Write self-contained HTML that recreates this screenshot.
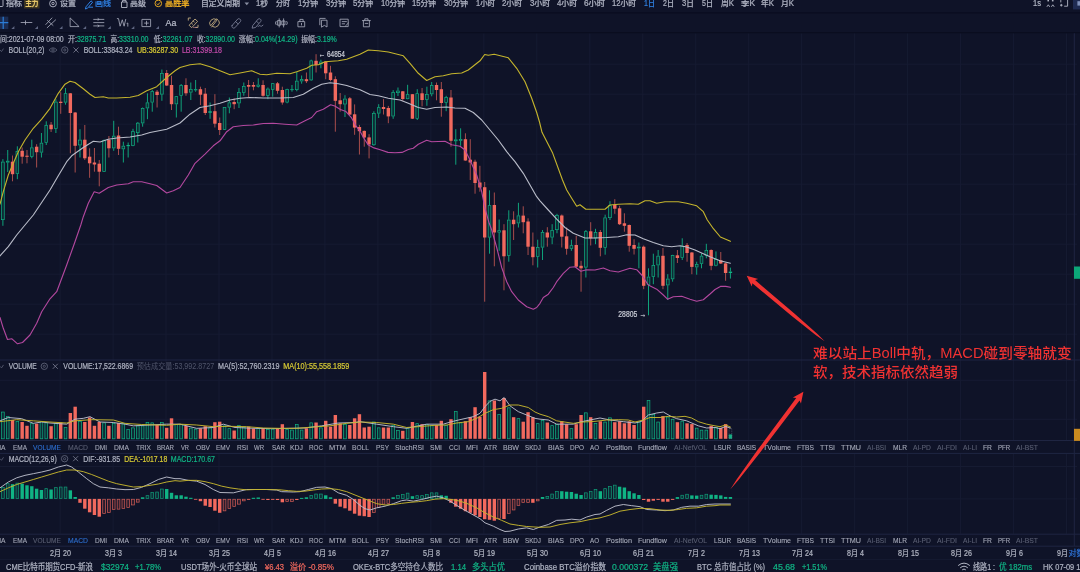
<!DOCTYPE html>
<html lang="zh-CN">
<head>
<meta charset="utf-8">
<title>BTC/USDT 日线 - BOLL / VOLUME / MACD</title>
<style>
html,body{margin:0;padding:0;background:#0f1328;}
body{width:1080px;height:572px;overflow:hidden;font-family:"Liberation Sans", "Noto Sans CJK SC", sans-serif;}
svg{display:block;font-family:"Liberation Sans", "Noto Sans CJK SC", sans-serif;}
text{white-space:pre;}
</style>
</head>
<body>
<svg width="1080" height="572" viewBox="0 0 1080 572">
<rect x="0" y="0" width="1080" height="572" fill="#0f1328" />
<line x1="60.1" y1="33.3" x2="60.1" y2="440" stroke="#161b32" stroke-width="1" />
<line x1="60.1" y1="453.8" x2="60.1" y2="533.8" stroke="#161b32" stroke-width="1" />
<line x1="113.07" y1="33.3" x2="113.07" y2="440" stroke="#161b32" stroke-width="1" />
<line x1="113.07" y1="453.8" x2="113.07" y2="533.8" stroke="#161b32" stroke-width="1" />
<line x1="166.04" y1="33.3" x2="166.04" y2="440" stroke="#161b32" stroke-width="1" />
<line x1="166.04" y1="453.8" x2="166.04" y2="533.8" stroke="#161b32" stroke-width="1" />
<line x1="219.01" y1="33.3" x2="219.01" y2="440" stroke="#161b32" stroke-width="1" />
<line x1="219.01" y1="453.8" x2="219.01" y2="533.8" stroke="#161b32" stroke-width="1" />
<line x1="271.98" y1="33.3" x2="271.98" y2="440" stroke="#161b32" stroke-width="1" />
<line x1="271.98" y1="453.8" x2="271.98" y2="533.8" stroke="#161b32" stroke-width="1" />
<line x1="324.95" y1="33.3" x2="324.95" y2="440" stroke="#161b32" stroke-width="1" />
<line x1="324.95" y1="453.8" x2="324.95" y2="533.8" stroke="#161b32" stroke-width="1" />
<line x1="377.92" y1="33.3" x2="377.92" y2="440" stroke="#161b32" stroke-width="1" />
<line x1="377.92" y1="453.8" x2="377.92" y2="533.8" stroke="#161b32" stroke-width="1" />
<line x1="430.89" y1="33.3" x2="430.89" y2="440" stroke="#161b32" stroke-width="1" />
<line x1="430.89" y1="453.8" x2="430.89" y2="533.8" stroke="#161b32" stroke-width="1" />
<line x1="483.86" y1="33.3" x2="483.86" y2="440" stroke="#161b32" stroke-width="1" />
<line x1="483.86" y1="453.8" x2="483.86" y2="533.8" stroke="#161b32" stroke-width="1" />
<line x1="536.83" y1="33.3" x2="536.83" y2="440" stroke="#161b32" stroke-width="1" />
<line x1="536.83" y1="453.8" x2="536.83" y2="533.8" stroke="#161b32" stroke-width="1" />
<line x1="589.8" y1="33.3" x2="589.8" y2="440" stroke="#161b32" stroke-width="1" />
<line x1="589.8" y1="453.8" x2="589.8" y2="533.8" stroke="#161b32" stroke-width="1" />
<line x1="642.77" y1="33.3" x2="642.77" y2="440" stroke="#161b32" stroke-width="1" />
<line x1="642.77" y1="453.8" x2="642.77" y2="533.8" stroke="#161b32" stroke-width="1" />
<line x1="695.74" y1="33.3" x2="695.74" y2="440" stroke="#161b32" stroke-width="1" />
<line x1="695.74" y1="453.8" x2="695.74" y2="533.8" stroke="#161b32" stroke-width="1" />
<line x1="748.71" y1="33.3" x2="748.71" y2="440" stroke="#161b32" stroke-width="1" />
<line x1="748.71" y1="453.8" x2="748.71" y2="533.8" stroke="#161b32" stroke-width="1" />
<line x1="801.68" y1="33.3" x2="801.68" y2="440" stroke="#161b32" stroke-width="1" />
<line x1="801.68" y1="453.8" x2="801.68" y2="533.8" stroke="#161b32" stroke-width="1" />
<line x1="854.65" y1="33.3" x2="854.65" y2="440" stroke="#161b32" stroke-width="1" />
<line x1="854.65" y1="453.8" x2="854.65" y2="533.8" stroke="#161b32" stroke-width="1" />
<line x1="907.62" y1="33.3" x2="907.62" y2="440" stroke="#161b32" stroke-width="1" />
<line x1="907.62" y1="453.8" x2="907.62" y2="533.8" stroke="#161b32" stroke-width="1" />
<line x1="960.59" y1="33.3" x2="960.59" y2="440" stroke="#161b32" stroke-width="1" />
<line x1="960.59" y1="453.8" x2="960.59" y2="533.8" stroke="#161b32" stroke-width="1" />
<line x1="1013.56" y1="33.3" x2="1013.56" y2="440" stroke="#161b32" stroke-width="1" />
<line x1="1013.56" y1="453.8" x2="1013.56" y2="533.8" stroke="#161b32" stroke-width="1" />
<line x1="1066.53" y1="33.3" x2="1066.53" y2="440" stroke="#161b32" stroke-width="1" />
<line x1="1066.53" y1="453.8" x2="1066.53" y2="533.8" stroke="#161b32" stroke-width="1" />
<line x1="0" y1="64.2" x2="1077" y2="64.2" stroke="#161b32" stroke-width="1" />
<line x1="0" y1="94.2" x2="1077" y2="94.2" stroke="#161b32" stroke-width="1" />
<line x1="0" y1="124.2" x2="1077" y2="124.2" stroke="#161b32" stroke-width="1" />
<line x1="0" y1="154.2" x2="1077" y2="154.2" stroke="#161b32" stroke-width="1" />
<line x1="0" y1="184.2" x2="1077" y2="184.2" stroke="#161b32" stroke-width="1" />
<line x1="0" y1="214.2" x2="1077" y2="214.2" stroke="#161b32" stroke-width="1" />
<line x1="0" y1="244.2" x2="1077" y2="244.2" stroke="#161b32" stroke-width="1" />
<line x1="0" y1="274.2" x2="1077" y2="274.2" stroke="#161b32" stroke-width="1" />
<line x1="0" y1="304.2" x2="1077" y2="304.2" stroke="#161b32" stroke-width="1" />
<line x1="0" y1="334.2" x2="1077" y2="334.2" stroke="#161b32" stroke-width="1" />
<line x1="0" y1="380.3" x2="1077" y2="380.3" stroke="#161b32" stroke-width="1" />
<line x1="0" y1="419.3" x2="1077" y2="419.3" stroke="#161b32" stroke-width="1" />
<line x1="0" y1="466.5" x2="1077" y2="466.5" stroke="#161b32" stroke-width="1" />
<line x1="0" y1="498.9" x2="1077" y2="498.9" stroke="#161b32" stroke-width="1" />
<line x1="0" y1="12.9" x2="1080" y2="12.9" stroke="#0a0d1f" stroke-width="1.4" />
<line x1="0" y1="32.6" x2="1080" y2="32.6" stroke="#0a0d1f" stroke-width="1.4" />
<line x1="0" y1="360" x2="1080" y2="360" stroke="#1f2542" stroke-width="1" />
<line x1="0" y1="440.5" x2="1080" y2="440.5" stroke="#1f2542" stroke-width="1" />
<line x1="0" y1="453.4" x2="1080" y2="453.4" stroke="#1f2542" stroke-width="1" />
<line x1="0" y1="534.2" x2="1080" y2="534.2" stroke="#1f2542" stroke-width="1" />
<line x1="0" y1="546.2" x2="1080" y2="546.2" stroke="#1f2542" stroke-width="1" />
<line x1="0" y1="559.5" x2="1080" y2="559.5" stroke="#141930" stroke-width="1" />
<line x1="1074.3" y1="33.3" x2="1074.3" y2="546.2" stroke="#1f2542" stroke-width="1" />
<g id="candles">
<line x1="2.9" y1="159.2" x2="2.9" y2="161.7" stroke="#10b384" stroke-width="0.9" />
<line x1="2.9" y1="220" x2="2.9" y2="225.8" stroke="#10b384" stroke-width="0.9" />
<rect x="1.55" y="162.05" width="2.7" height="57.6" fill="#0e2b35" stroke="#10b384" stroke-width="0.7" />
<line x1="7.72" y1="150" x2="7.72" y2="160.8" stroke="#10b384" stroke-width="0.9" />
<line x1="7.72" y1="162.5" x2="7.72" y2="172" stroke="#10b384" stroke-width="0.9" />
<rect x="6.37" y="161.15" width="2.7" height="1" fill="#0e2b35" stroke="#10b384" stroke-width="0.7" />
<line x1="12.54" y1="155.5" x2="12.54" y2="181.3" stroke="#f2695e" stroke-width="0.9" opacity="0.75"/>
<rect x="10.84" y="161.7" width="3.4" height="12.5" fill="#f2695e" />
<line x1="17.35" y1="146.3" x2="17.35" y2="151.2" stroke="#10b384" stroke-width="0.9" />
<line x1="17.35" y1="173.7" x2="17.35" y2="179.2" stroke="#10b384" stroke-width="0.9" />
<rect x="16" y="151.55" width="2.7" height="21.8" fill="#0e2b35" stroke="#10b384" stroke-width="0.7" />
<line x1="22.17" y1="147.5" x2="22.17" y2="163.7" stroke="#f2695e" stroke-width="0.9" opacity="0.75"/>
<rect x="20.47" y="150.8" width="3.4" height="5.9" fill="#f2695e" />
<line x1="26.99" y1="150" x2="26.99" y2="163.3" stroke="#f2695e" stroke-width="0.9" opacity="0.75"/>
<rect x="25.29" y="155.7" width="3.4" height="1.1" fill="#f2695e" />
<line x1="31.81" y1="139.7" x2="31.81" y2="147.5" stroke="#10b384" stroke-width="0.9" />
<line x1="31.81" y1="156.7" x2="31.81" y2="158.3" stroke="#10b384" stroke-width="0.9" />
<rect x="30.46" y="147.85" width="2.7" height="8.5" fill="#0e2b35" stroke="#10b384" stroke-width="0.7" />
<line x1="36.63" y1="144.2" x2="36.63" y2="167.5" stroke="#f2695e" stroke-width="0.9" opacity="0.75"/>
<rect x="34.93" y="146.7" width="3.4" height="5.5" fill="#f2695e" />
<line x1="41.44" y1="133" x2="41.44" y2="142.8" stroke="#10b384" stroke-width="0.9" />
<line x1="41.44" y1="152.5" x2="41.44" y2="157.5" stroke="#10b384" stroke-width="0.9" />
<rect x="40.09" y="143.15" width="2.7" height="9" fill="#0e2b35" stroke="#10b384" stroke-width="0.7" />
<line x1="46.26" y1="121.3" x2="46.26" y2="125" stroke="#10b384" stroke-width="0.9" />
<line x1="46.26" y1="142.8" x2="46.26" y2="145" stroke="#10b384" stroke-width="0.9" />
<rect x="44.91" y="125.35" width="2.7" height="17.1" fill="#0e2b35" stroke="#10b384" stroke-width="0.7" />
<line x1="51.08" y1="122" x2="51.08" y2="132" stroke="#f2695e" stroke-width="0.9" opacity="0.75"/>
<rect x="49.38" y="124.7" width="3.4" height="4.5" fill="#f2695e" />
<line x1="55.9" y1="99.2" x2="55.9" y2="101.7" stroke="#10b384" stroke-width="0.9" />
<line x1="55.9" y1="128.8" x2="55.9" y2="133" stroke="#10b384" stroke-width="0.9" />
<rect x="54.55" y="102.05" width="2.7" height="26.4" fill="#0e2b35" stroke="#10b384" stroke-width="0.7" />
<line x1="60.72" y1="92.2" x2="60.72" y2="113.8" stroke="#f2695e" stroke-width="0.9" opacity="0.75"/>
<rect x="59.02" y="101.7" width="3.4" height="1.3" fill="#f2695e" />
<line x1="65.53" y1="88" x2="65.53" y2="93.3" stroke="#10b384" stroke-width="0.9" />
<line x1="65.53" y1="102.5" x2="65.53" y2="104.7" stroke="#10b384" stroke-width="0.9" />
<rect x="64.18" y="93.65" width="2.7" height="8.5" fill="#0e2b35" stroke="#10b384" stroke-width="0.7" />
<line x1="70.35" y1="93" x2="70.35" y2="153.3" stroke="#f2695e" stroke-width="0.9" opacity="0.75"/>
<rect x="68.65" y="93.3" width="3.4" height="19.7" fill="#f2695e" />
<line x1="75.17" y1="112" x2="75.17" y2="172.5" stroke="#f2695e" stroke-width="0.9" opacity="0.75"/>
<rect x="73.47" y="112.5" width="3.4" height="33.3" fill="#f2695e" />
<line x1="79.99" y1="129.2" x2="79.99" y2="139.7" stroke="#10b384" stroke-width="0.9" />
<line x1="79.99" y1="145.3" x2="79.99" y2="157.5" stroke="#10b384" stroke-width="0.9" />
<rect x="78.64" y="140.05" width="2.7" height="4.9" fill="#0e2b35" stroke="#10b384" stroke-width="0.7" />
<line x1="84.81" y1="125" x2="84.81" y2="160" stroke="#f2695e" stroke-width="0.9" opacity="0.75"/>
<rect x="83.11" y="139.7" width="3.4" height="18.6" fill="#f2695e" />
<line x1="89.62" y1="148.3" x2="89.62" y2="177.8" stroke="#f2695e" stroke-width="0.9" opacity="0.75"/>
<rect x="87.92" y="156.7" width="3.4" height="6.6" fill="#f2695e" />
<line x1="94.44" y1="148" x2="94.44" y2="171.7" stroke="#f2695e" stroke-width="0.9" opacity="0.75"/>
<rect x="92.74" y="162.5" width="3.4" height="2" fill="#f2695e" />
<line x1="99.26" y1="160" x2="99.26" y2="186.3" stroke="#f2695e" stroke-width="0.9" opacity="0.75"/>
<rect x="97.56" y="163.7" width="3.4" height="8" fill="#f2695e" />
<line x1="104.08" y1="139.5" x2="104.08" y2="140" stroke="#10b384" stroke-width="0.9" />
<line x1="104.08" y1="171.7" x2="104.08" y2="172" stroke="#10b384" stroke-width="0.9" />
<rect x="102.73" y="140.35" width="2.7" height="31" fill="#0e2b35" stroke="#10b384" stroke-width="0.7" />
<line x1="108.9" y1="136" x2="108.9" y2="157.5" stroke="#f2695e" stroke-width="0.9" opacity="0.75"/>
<rect x="107.2" y="140" width="3.4" height="8.3" fill="#f2695e" />
<line x1="113.71" y1="120.8" x2="113.71" y2="135.8" stroke="#10b384" stroke-width="0.9" />
<line x1="113.71" y1="148.3" x2="113.71" y2="150.8" stroke="#10b384" stroke-width="0.9" />
<rect x="112.36" y="136.15" width="2.7" height="11.8" fill="#0e2b35" stroke="#10b384" stroke-width="0.7" />
<line x1="118.53" y1="126.7" x2="118.53" y2="155" stroke="#f2695e" stroke-width="0.9" opacity="0.75"/>
<rect x="116.83" y="135.5" width="3.4" height="13.3" fill="#f2695e" />
<line x1="123.35" y1="141.7" x2="123.35" y2="145.8" stroke="#10b384" stroke-width="0.9" />
<line x1="123.35" y1="149.2" x2="123.35" y2="162.5" stroke="#10b384" stroke-width="0.9" />
<rect x="122" y="146.15" width="2.7" height="2.7" fill="#0e2b35" stroke="#10b384" stroke-width="0.7" />
<line x1="128.17" y1="142.5" x2="128.17" y2="145" stroke="#10b384" stroke-width="0.9" />
<line x1="128.17" y1="146.2" x2="128.17" y2="157.5" stroke="#10b384" stroke-width="0.9" />
<rect x="126.47" y="145" width="3.4" height="1.2" fill="#10b384" />
<line x1="132.99" y1="128.8" x2="132.99" y2="131.3" stroke="#10b384" stroke-width="0.9" />
<line x1="132.99" y1="145.8" x2="132.99" y2="146.2" stroke="#10b384" stroke-width="0.9" />
<rect x="131.64" y="131.65" width="2.7" height="13.8" fill="#0e2b35" stroke="#10b384" stroke-width="0.7" />
<line x1="137.8" y1="122" x2="137.8" y2="122.8" stroke="#10b384" stroke-width="0.9" />
<line x1="137.8" y1="133" x2="137.8" y2="142.5" stroke="#10b384" stroke-width="0.9" />
<rect x="136.45" y="123.15" width="2.7" height="9.5" fill="#0e2b35" stroke="#10b384" stroke-width="0.7" />
<line x1="142.62" y1="107.5" x2="142.62" y2="108" stroke="#10b384" stroke-width="0.9" />
<line x1="142.62" y1="123.3" x2="142.62" y2="126.7" stroke="#10b384" stroke-width="0.9" />
<rect x="141.27" y="108.35" width="2.7" height="14.6" fill="#0e2b35" stroke="#10b384" stroke-width="0.7" />
<line x1="147.44" y1="93.3" x2="147.44" y2="102.5" stroke="#10b384" stroke-width="0.9" />
<line x1="147.44" y1="108.3" x2="147.44" y2="119.2" stroke="#10b384" stroke-width="0.9" />
<rect x="146.09" y="102.85" width="2.7" height="5.1" fill="#0e2b35" stroke="#10b384" stroke-width="0.7" />
<line x1="152.26" y1="89.7" x2="152.26" y2="91.2" stroke="#10b384" stroke-width="0.9" />
<line x1="152.26" y1="102.5" x2="152.26" y2="111.7" stroke="#10b384" stroke-width="0.9" />
<rect x="150.91" y="91.55" width="2.7" height="10.6" fill="#0e2b35" stroke="#10b384" stroke-width="0.7" />
<line x1="157.08" y1="90" x2="157.08" y2="107.5" stroke="#f2695e" stroke-width="0.9" opacity="0.75"/>
<rect x="155.38" y="91.7" width="3.4" height="3.3" fill="#f2695e" />
<line x1="161.89" y1="69.5" x2="161.89" y2="73" stroke="#10b384" stroke-width="0.9" />
<line x1="161.89" y1="94.5" x2="161.89" y2="100.8" stroke="#10b384" stroke-width="0.9" />
<rect x="160.54" y="73.35" width="2.7" height="20.8" fill="#0e2b35" stroke="#10b384" stroke-width="0.7" />
<line x1="166.71" y1="70" x2="166.71" y2="86" stroke="#f2695e" stroke-width="0.9" opacity="0.75"/>
<rect x="165.01" y="73" width="3.4" height="12.5" fill="#f2695e" />
<line x1="171.53" y1="75.8" x2="171.53" y2="110" stroke="#f2695e" stroke-width="0.9" opacity="0.75"/>
<rect x="169.83" y="85" width="3.4" height="19.2" fill="#f2695e" />
<line x1="176.35" y1="96" x2="176.35" y2="96.3" stroke="#10b384" stroke-width="0.9" />
<line x1="176.35" y1="104.2" x2="176.35" y2="117.5" stroke="#10b384" stroke-width="0.9" />
<rect x="175" y="96.65" width="2.7" height="7.2" fill="#0e2b35" stroke="#10b384" stroke-width="0.7" />
<line x1="181.17" y1="84" x2="181.17" y2="85" stroke="#10b384" stroke-width="0.9" />
<line x1="181.17" y1="95.8" x2="181.17" y2="111.7" stroke="#10b384" stroke-width="0.9" />
<rect x="179.82" y="85.35" width="2.7" height="10.1" fill="#0e2b35" stroke="#10b384" stroke-width="0.7" />
<line x1="185.98" y1="78.3" x2="185.98" y2="95.8" stroke="#f2695e" stroke-width="0.9" opacity="0.75"/>
<rect x="184.28" y="85" width="3.4" height="8.3" fill="#f2695e" />
<line x1="190.8" y1="82.5" x2="190.8" y2="89.2" stroke="#10b384" stroke-width="0.9" />
<line x1="190.8" y1="92.5" x2="190.8" y2="100" stroke="#10b384" stroke-width="0.9" />
<rect x="189.45" y="89.55" width="2.7" height="2.6" fill="#0e2b35" stroke="#10b384" stroke-width="0.7" />
<line x1="195.62" y1="80" x2="195.62" y2="89.2" stroke="#10b384" stroke-width="0.9" />
<line x1="195.62" y1="90.3" x2="195.62" y2="91.7" stroke="#10b384" stroke-width="0.9" />
<rect x="193.92" y="89.2" width="3.4" height="1.1" fill="#10b384" />
<line x1="200.44" y1="86.7" x2="200.44" y2="105" stroke="#f2695e" stroke-width="0.9" opacity="0.75"/>
<rect x="198.74" y="89.2" width="3.4" height="5.5" fill="#f2695e" />
<line x1="205.26" y1="88" x2="205.26" y2="115" stroke="#f2695e" stroke-width="0.9" opacity="0.75"/>
<rect x="203.56" y="93.7" width="3.4" height="19.3" fill="#f2695e" />
<line x1="210.07" y1="102.5" x2="210.07" y2="111.2" stroke="#10b384" stroke-width="0.9" />
<line x1="210.07" y1="112.8" x2="210.07" y2="118.8" stroke="#10b384" stroke-width="0.9" />
<rect x="208.37" y="111.2" width="3.4" height="1.6" fill="#10b384" />
<line x1="214.89" y1="94.2" x2="214.89" y2="127.5" stroke="#f2695e" stroke-width="0.9" opacity="0.75"/>
<rect x="213.19" y="111.2" width="3.4" height="12.5" fill="#f2695e" />
<line x1="219.71" y1="117.5" x2="219.71" y2="135" stroke="#f2695e" stroke-width="0.9" opacity="0.75"/>
<rect x="218.01" y="123" width="3.4" height="7" fill="#f2695e" />
<line x1="224.53" y1="107" x2="224.53" y2="107.2" stroke="#10b384" stroke-width="0.9" />
<line x1="224.53" y1="129.7" x2="224.53" y2="130" stroke="#10b384" stroke-width="0.9" />
<rect x="223.18" y="107.55" width="2.7" height="21.8" fill="#0e2b35" stroke="#10b384" stroke-width="0.7" />
<line x1="229.35" y1="97.5" x2="229.35" y2="102.5" stroke="#10b384" stroke-width="0.9" />
<line x1="229.35" y1="107.5" x2="229.35" y2="113.3" stroke="#10b384" stroke-width="0.9" />
<rect x="228" y="102.85" width="2.7" height="4.3" fill="#0e2b35" stroke="#10b384" stroke-width="0.7" />
<line x1="234.16" y1="98.3" x2="234.16" y2="109.2" stroke="#f2695e" stroke-width="0.9" opacity="0.75"/>
<rect x="232.46" y="102" width="3.4" height="2.2" fill="#f2695e" />
<line x1="238.98" y1="88" x2="238.98" y2="92.2" stroke="#10b384" stroke-width="0.9" />
<line x1="238.98" y1="103.3" x2="238.98" y2="108" stroke="#10b384" stroke-width="0.9" />
<rect x="237.63" y="92.55" width="2.7" height="10.4" fill="#0e2b35" stroke="#10b384" stroke-width="0.7" />
<line x1="243.8" y1="82.5" x2="243.8" y2="86.2" stroke="#10b384" stroke-width="0.9" />
<line x1="243.8" y1="92.8" x2="243.8" y2="95.8" stroke="#10b384" stroke-width="0.9" />
<rect x="242.45" y="86.55" width="2.7" height="5.9" fill="#0e2b35" stroke="#10b384" stroke-width="0.7" />
<line x1="248.62" y1="80" x2="248.62" y2="97" stroke="#f2695e" stroke-width="0.9" opacity="0.75"/>
<rect x="246.92" y="85" width="3.4" height="1.7" fill="#f2695e" />
<line x1="253.44" y1="82" x2="253.44" y2="90.3" stroke="#f2695e" stroke-width="0.9" opacity="0.75"/>
<rect x="251.74" y="85" width="3.4" height="1.7" fill="#f2695e" />
<line x1="258.25" y1="78.3" x2="258.25" y2="84.7" stroke="#10b384" stroke-width="0.9" />
<line x1="258.25" y1="86.7" x2="258.25" y2="87.5" stroke="#10b384" stroke-width="0.9" />
<rect x="256.9" y="85.05" width="2.7" height="1.3" fill="#0e2b35" stroke="#10b384" stroke-width="0.7" />
<line x1="263.07" y1="80.3" x2="263.07" y2="96.7" stroke="#f2695e" stroke-width="0.9" opacity="0.75"/>
<rect x="261.37" y="85" width="3.4" height="10.8" fill="#f2695e" />
<line x1="267.89" y1="87.5" x2="267.89" y2="88.7" stroke="#10b384" stroke-width="0.9" />
<line x1="267.89" y1="95.8" x2="267.89" y2="99.2" stroke="#10b384" stroke-width="0.9" />
<rect x="266.54" y="89.05" width="2.7" height="6.4" fill="#0e2b35" stroke="#10b384" stroke-width="0.7" />
<line x1="272.71" y1="83" x2="272.71" y2="83.3" stroke="#10b384" stroke-width="0.9" />
<line x1="272.71" y1="89.7" x2="272.71" y2="96.7" stroke="#10b384" stroke-width="0.9" />
<rect x="271.36" y="83.65" width="2.7" height="5.7" fill="#0e2b35" stroke="#10b384" stroke-width="0.7" />
<line x1="277.53" y1="82" x2="277.53" y2="93.7" stroke="#f2695e" stroke-width="0.9" opacity="0.75"/>
<rect x="275.83" y="83.3" width="3.4" height="7.5" fill="#f2695e" />
<line x1="282.34" y1="86.7" x2="282.34" y2="104.7" stroke="#f2695e" stroke-width="0.9" opacity="0.75"/>
<rect x="280.64" y="90" width="3.4" height="12.5" fill="#f2695e" />
<line x1="287.16" y1="88.7" x2="287.16" y2="89.2" stroke="#10b384" stroke-width="0.9" />
<line x1="287.16" y1="102.5" x2="287.16" y2="103.3" stroke="#10b384" stroke-width="0.9" />
<rect x="285.81" y="89.55" width="2.7" height="12.6" fill="#0e2b35" stroke="#10b384" stroke-width="0.7" />
<line x1="291.98" y1="85" x2="291.98" y2="89.2" stroke="#10b384" stroke-width="0.9" />
<line x1="291.98" y1="90" x2="291.98" y2="91.7" stroke="#10b384" stroke-width="0.9" />
<rect x="290.28" y="89.2" width="3.4" height="0.9" fill="#10b384" />
<line x1="296.8" y1="71.7" x2="296.8" y2="80.8" stroke="#10b384" stroke-width="0.9" />
<line x1="296.8" y1="90" x2="296.8" y2="91.3" stroke="#10b384" stroke-width="0.9" />
<rect x="295.45" y="81.15" width="2.7" height="8.5" fill="#0e2b35" stroke="#10b384" stroke-width="0.7" />
<line x1="301.62" y1="75.5" x2="301.62" y2="79.2" stroke="#10b384" stroke-width="0.9" />
<line x1="301.62" y1="81.3" x2="301.62" y2="83.7" stroke="#10b384" stroke-width="0.9" />
<rect x="300.27" y="79.55" width="2.7" height="1.4" fill="#0e2b35" stroke="#10b384" stroke-width="0.7" />
<line x1="306.43" y1="72.5" x2="306.43" y2="83" stroke="#f2695e" stroke-width="0.9" opacity="0.75"/>
<rect x="304.73" y="79.2" width="3.4" height="2" fill="#f2695e" />
<line x1="311.25" y1="59.7" x2="311.25" y2="60.5" stroke="#10b384" stroke-width="0.9" />
<line x1="311.25" y1="80.3" x2="311.25" y2="80.8" stroke="#10b384" stroke-width="0.9" />
<rect x="309.9" y="60.85" width="2.7" height="19.1" fill="#0e2b35" stroke="#10b384" stroke-width="0.7" />
<line x1="316.07" y1="54.2" x2="316.07" y2="72.5" stroke="#f2695e" stroke-width="0.9" opacity="0.75"/>
<rect x="314.37" y="60.8" width="3.4" height="4.2" fill="#f2695e" />
<line x1="320.89" y1="59.7" x2="320.89" y2="61.7" stroke="#10b384" stroke-width="0.9" />
<line x1="320.89" y1="64.2" x2="320.89" y2="68.3" stroke="#10b384" stroke-width="0.9" />
<rect x="319.54" y="62.05" width="2.7" height="1.8" fill="#0e2b35" stroke="#10b384" stroke-width="0.7" />
<line x1="325.71" y1="61.2" x2="325.71" y2="79.2" stroke="#f2695e" stroke-width="0.9" opacity="0.75"/>
<rect x="324.01" y="61.7" width="3.4" height="11.6" fill="#f2695e" />
<line x1="330.52" y1="65.8" x2="330.52" y2="81.3" stroke="#f2695e" stroke-width="0.9" opacity="0.75"/>
<rect x="328.82" y="72.5" width="3.4" height="7.5" fill="#f2695e" />
<line x1="335.34" y1="76.3" x2="335.34" y2="131.7" stroke="#f2695e" stroke-width="0.9" opacity="0.75"/>
<rect x="333.64" y="79.2" width="3.4" height="21.6" fill="#f2695e" />
<line x1="340.16" y1="93" x2="340.16" y2="111.7" stroke="#f2695e" stroke-width="0.9" opacity="0.75"/>
<rect x="338.46" y="100.3" width="3.4" height="3.9" fill="#f2695e" />
<line x1="344.98" y1="95.2" x2="344.98" y2="98.7" stroke="#10b384" stroke-width="0.9" />
<line x1="344.98" y1="104.4" x2="344.98" y2="117" stroke="#10b384" stroke-width="0.9" />
<rect x="343.63" y="99.05" width="2.7" height="5" fill="#0e2b35" stroke="#10b384" stroke-width="0.7" />
<line x1="349.8" y1="97" x2="349.8" y2="115" stroke="#f2695e" stroke-width="0.9" opacity="0.75"/>
<rect x="348.1" y="98.3" width="3.4" height="16.3" fill="#f2695e" />
<line x1="354.61" y1="104.4" x2="354.61" y2="134.8" stroke="#f2695e" stroke-width="0.9" opacity="0.75"/>
<rect x="352.91" y="114.3" width="3.4" height="13.3" fill="#f2695e" />
<line x1="359.43" y1="124.9" x2="359.43" y2="154.5" stroke="#f2695e" stroke-width="0.9" opacity="0.75"/>
<rect x="357.73" y="127" width="3.4" height="4.2" fill="#f2695e" />
<line x1="364.25" y1="130.5" x2="364.25" y2="146.7" stroke="#f2695e" stroke-width="0.9" opacity="0.75"/>
<rect x="362.55" y="130.9" width="3.4" height="6.6" fill="#f2695e" />
<line x1="369.07" y1="134.2" x2="369.07" y2="158.4" stroke="#f2695e" stroke-width="0.9" opacity="0.75"/>
<rect x="367.37" y="137.4" width="3.4" height="7.1" fill="#f2695e" />
<line x1="373.89" y1="111.3" x2="373.89" y2="113" stroke="#10b384" stroke-width="0.9" />
<line x1="373.89" y1="145.1" x2="373.89" y2="145.8" stroke="#10b384" stroke-width="0.9" />
<rect x="372.54" y="113.35" width="2.7" height="31.4" fill="#0e2b35" stroke="#10b384" stroke-width="0.7" />
<line x1="378.7" y1="104.2" x2="378.7" y2="107.3" stroke="#10b384" stroke-width="0.9" />
<line x1="378.7" y1="113.5" x2="378.7" y2="118" stroke="#10b384" stroke-width="0.9" />
<rect x="377.35" y="107.65" width="2.7" height="5.5" fill="#0e2b35" stroke="#10b384" stroke-width="0.7" />
<line x1="383.52" y1="99.1" x2="383.52" y2="114.5" stroke="#f2695e" stroke-width="0.9" opacity="0.75"/>
<rect x="381.82" y="107" width="3.4" height="2" fill="#f2695e" />
<line x1="388.34" y1="105.9" x2="388.34" y2="123.2" stroke="#f2695e" stroke-width="0.9" opacity="0.75"/>
<rect x="386.64" y="108" width="3.4" height="8.4" fill="#f2695e" />
<line x1="393.16" y1="90.1" x2="393.16" y2="92.1" stroke="#10b384" stroke-width="0.9" />
<line x1="393.16" y1="116.4" x2="393.16" y2="118.8" stroke="#10b384" stroke-width="0.9" />
<rect x="391.81" y="92.45" width="2.7" height="23.6" fill="#0e2b35" stroke="#10b384" stroke-width="0.7" />
<line x1="397.98" y1="87.5" x2="397.98" y2="90.7" stroke="#10b384" stroke-width="0.9" />
<line x1="397.98" y1="93" x2="397.98" y2="96" stroke="#10b384" stroke-width="0.9" />
<rect x="396.63" y="91.05" width="2.7" height="1.6" fill="#0e2b35" stroke="#10b384" stroke-width="0.7" />
<line x1="402.79" y1="91" x2="402.79" y2="100.8" stroke="#f2695e" stroke-width="0.9" opacity="0.75"/>
<rect x="401.09" y="91.3" width="3.4" height="7.7" fill="#f2695e" />
<line x1="407.61" y1="84.8" x2="407.61" y2="94.3" stroke="#10b384" stroke-width="0.9" />
<line x1="407.61" y1="99.1" x2="407.61" y2="99.3" stroke="#10b384" stroke-width="0.9" />
<rect x="406.26" y="94.65" width="2.7" height="4.1" fill="#0e2b35" stroke="#10b384" stroke-width="0.7" />
<line x1="412.43" y1="94" x2="412.43" y2="119" stroke="#f2695e" stroke-width="0.9" opacity="0.75"/>
<rect x="410.73" y="94.2" width="3.4" height="24.5" fill="#f2695e" />
<line x1="417.25" y1="89.2" x2="417.25" y2="93.3" stroke="#10b384" stroke-width="0.9" />
<line x1="417.25" y1="118.8" x2="417.25" y2="120" stroke="#10b384" stroke-width="0.9" />
<rect x="415.9" y="93.65" width="2.7" height="24.8" fill="#0e2b35" stroke="#10b384" stroke-width="0.7" />
<line x1="422.07" y1="88" x2="422.07" y2="106.3" stroke="#f2695e" stroke-width="0.9" opacity="0.75"/>
<rect x="420.37" y="93.3" width="3.4" height="6.7" fill="#f2695e" />
<line x1="426.88" y1="86.7" x2="426.88" y2="94.2" stroke="#10b384" stroke-width="0.9" />
<line x1="426.88" y1="99.7" x2="426.88" y2="105.8" stroke="#10b384" stroke-width="0.9" />
<rect x="425.53" y="94.55" width="2.7" height="4.8" fill="#0e2b35" stroke="#10b384" stroke-width="0.7" />
<line x1="431.7" y1="82" x2="431.7" y2="85" stroke="#10b384" stroke-width="0.9" />
<line x1="431.7" y1="94.2" x2="431.7" y2="96.3" stroke="#10b384" stroke-width="0.9" />
<rect x="430.35" y="85.35" width="2.7" height="8.5" fill="#0e2b35" stroke="#10b384" stroke-width="0.7" />
<line x1="436.52" y1="82.5" x2="436.52" y2="100.3" stroke="#f2695e" stroke-width="0.9" opacity="0.75"/>
<rect x="434.82" y="85" width="3.4" height="5" fill="#f2695e" />
<line x1="441.34" y1="82" x2="441.34" y2="116.7" stroke="#f2695e" stroke-width="0.9" opacity="0.75"/>
<rect x="439.64" y="89.2" width="3.4" height="13.8" fill="#f2695e" />
<line x1="446.16" y1="95.8" x2="446.16" y2="97" stroke="#10b384" stroke-width="0.9" />
<line x1="446.16" y1="102.8" x2="446.16" y2="111.2" stroke="#10b384" stroke-width="0.9" />
<rect x="444.81" y="97.35" width="2.7" height="5.1" fill="#0e2b35" stroke="#10b384" stroke-width="0.7" />
<line x1="450.97" y1="90" x2="450.97" y2="146.7" stroke="#f2695e" stroke-width="0.9" opacity="0.75"/>
<rect x="449.27" y="97.5" width="3.4" height="43.3" fill="#f2695e" />
<line x1="455.79" y1="129.2" x2="455.79" y2="139.5" stroke="#10b384" stroke-width="0.9" />
<line x1="455.79" y1="141.2" x2="455.79" y2="164.7" stroke="#10b384" stroke-width="0.9" />
<rect x="454.44" y="139.85" width="2.7" height="1" fill="#0e2b35" stroke="#10b384" stroke-width="0.7" />
<line x1="460.61" y1="128.3" x2="460.61" y2="139.2" stroke="#10b384" stroke-width="0.9" />
<line x1="460.61" y1="140.8" x2="460.61" y2="145.8" stroke="#10b384" stroke-width="0.9" />
<rect x="459.26" y="139.55" width="2.7" height="0.9" fill="#0e2b35" stroke="#10b384" stroke-width="0.7" />
<line x1="465.43" y1="133.3" x2="465.43" y2="160.8" stroke="#f2695e" stroke-width="0.9" opacity="0.75"/>
<rect x="463.73" y="139.2" width="3.4" height="21.3" fill="#f2695e" />
<line x1="470.25" y1="139.2" x2="470.25" y2="180" stroke="#f2695e" stroke-width="0.9" opacity="0.75"/>
<rect x="468.55" y="159.7" width="3.4" height="2.8" fill="#f2695e" />
<line x1="475.06" y1="159.7" x2="475.06" y2="193.7" stroke="#f2695e" stroke-width="0.9" opacity="0.75"/>
<rect x="473.36" y="161.7" width="3.4" height="21.3" fill="#f2695e" />
<line x1="479.88" y1="165.8" x2="479.88" y2="191.7" stroke="#f2695e" stroke-width="0.9" opacity="0.75"/>
<rect x="478.18" y="182.5" width="3.4" height="5" fill="#f2695e" />
<line x1="484.7" y1="182" x2="484.7" y2="301.7" stroke="#f2695e" stroke-width="0.9" opacity="0.75"/>
<rect x="483" y="187.2" width="3.4" height="50.3" fill="#f2695e" />
<line x1="489.52" y1="190.3" x2="489.52" y2="205.3" stroke="#10b384" stroke-width="0.9" />
<line x1="489.52" y1="237.5" x2="489.52" y2="253.7" stroke="#10b384" stroke-width="0.9" />
<rect x="488.17" y="205.65" width="2.7" height="31.5" fill="#0e2b35" stroke="#10b384" stroke-width="0.7" />
<line x1="494.34" y1="192.5" x2="494.34" y2="266.3" stroke="#f2695e" stroke-width="0.9" opacity="0.75"/>
<rect x="492.64" y="205" width="3.4" height="27.5" fill="#f2695e" />
<line x1="499.15" y1="219.5" x2="499.15" y2="230.3" stroke="#10b384" stroke-width="0.9" />
<line x1="499.15" y1="232.5" x2="499.15" y2="250.8" stroke="#10b384" stroke-width="0.9" />
<rect x="497.8" y="230.65" width="2.7" height="1.5" fill="#0e2b35" stroke="#10b384" stroke-width="0.7" />
<line x1="503.97" y1="224.2" x2="503.97" y2="290.3" stroke="#f2695e" stroke-width="0.9" opacity="0.75"/>
<rect x="502.27" y="230.3" width="3.4" height="26" fill="#f2695e" />
<line x1="508.79" y1="210.3" x2="508.79" y2="219.7" stroke="#10b384" stroke-width="0.9" />
<line x1="508.79" y1="255.8" x2="508.79" y2="261.7" stroke="#10b384" stroke-width="0.9" />
<rect x="507.44" y="220.05" width="2.7" height="35.4" fill="#0e2b35" stroke="#10b384" stroke-width="0.7" />
<line x1="513.61" y1="211.3" x2="513.61" y2="240" stroke="#f2695e" stroke-width="0.9" opacity="0.75"/>
<rect x="511.91" y="219.7" width="3.4" height="4.5" fill="#f2695e" />
<line x1="518.43" y1="202.8" x2="518.43" y2="215.5" stroke="#10b384" stroke-width="0.9" />
<line x1="518.43" y1="223.3" x2="518.43" y2="227.5" stroke="#10b384" stroke-width="0.9" />
<rect x="517.08" y="215.85" width="2.7" height="7.1" fill="#0e2b35" stroke="#10b384" stroke-width="0.7" />
<line x1="523.24" y1="206.3" x2="523.24" y2="233.3" stroke="#f2695e" stroke-width="0.9" opacity="0.75"/>
<rect x="521.54" y="215.6" width="3.4" height="6.6" fill="#f2695e" />
<line x1="528.06" y1="218.3" x2="528.06" y2="255" stroke="#f2695e" stroke-width="0.9" opacity="0.75"/>
<rect x="526.36" y="221.5" width="3.4" height="25.2" fill="#f2695e" />
<line x1="532.88" y1="232.5" x2="532.88" y2="265.3" stroke="#f2695e" stroke-width="0.9" opacity="0.75"/>
<rect x="531.18" y="246.7" width="3.4" height="10.5" fill="#f2695e" />
<line x1="537.7" y1="239.7" x2="537.7" y2="247" stroke="#10b384" stroke-width="0.9" />
<line x1="537.7" y1="256.7" x2="537.7" y2="267.5" stroke="#10b384" stroke-width="0.9" />
<rect x="536.35" y="247.35" width="2.7" height="9" fill="#0e2b35" stroke="#10b384" stroke-width="0.7" />
<line x1="542.52" y1="230" x2="542.52" y2="232" stroke="#10b384" stroke-width="0.9" />
<line x1="542.52" y1="247.5" x2="542.52" y2="260" stroke="#10b384" stroke-width="0.9" />
<rect x="541.17" y="232.35" width="2.7" height="14.8" fill="#0e2b35" stroke="#10b384" stroke-width="0.7" />
<line x1="547.33" y1="227.2" x2="547.33" y2="246.7" stroke="#f2695e" stroke-width="0.9" opacity="0.75"/>
<rect x="545.63" y="232.5" width="3.4" height="5" fill="#f2695e" />
<line x1="552.15" y1="224.2" x2="552.15" y2="230" stroke="#10b384" stroke-width="0.9" />
<line x1="552.15" y1="237.5" x2="552.15" y2="244.2" stroke="#10b384" stroke-width="0.9" />
<rect x="550.8" y="230.35" width="2.7" height="6.8" fill="#0e2b35" stroke="#10b384" stroke-width="0.7" />
<line x1="556.97" y1="213.8" x2="556.97" y2="215" stroke="#10b384" stroke-width="0.9" />
<line x1="556.97" y1="230" x2="556.97" y2="233.3" stroke="#10b384" stroke-width="0.9" />
<rect x="555.62" y="215.35" width="2.7" height="14.3" fill="#0e2b35" stroke="#10b384" stroke-width="0.7" />
<line x1="561.79" y1="214.5" x2="561.79" y2="247.5" stroke="#f2695e" stroke-width="0.9" opacity="0.75"/>
<rect x="560.09" y="215.5" width="3.4" height="21.2" fill="#f2695e" />
<line x1="566.61" y1="227.5" x2="566.61" y2="254.7" stroke="#f2695e" stroke-width="0.9" opacity="0.75"/>
<rect x="564.91" y="236.3" width="3.4" height="12.5" fill="#f2695e" />
<line x1="571.42" y1="239.7" x2="571.42" y2="245.3" stroke="#10b384" stroke-width="0.9" />
<line x1="571.42" y1="248.8" x2="571.42" y2="250.8" stroke="#10b384" stroke-width="0.9" />
<rect x="570.07" y="245.65" width="2.7" height="2.8" fill="#0e2b35" stroke="#10b384" stroke-width="0.7" />
<line x1="576.24" y1="235.8" x2="576.24" y2="267.2" stroke="#f2695e" stroke-width="0.9" opacity="0.75"/>
<rect x="574.54" y="245" width="3.4" height="21.7" fill="#f2695e" />
<line x1="581.06" y1="260.8" x2="581.06" y2="291.7" stroke="#f2695e" stroke-width="0.9" opacity="0.75"/>
<rect x="579.36" y="265.8" width="3.4" height="2.5" fill="#f2695e" />
<line x1="585.88" y1="230" x2="585.88" y2="231.3" stroke="#10b384" stroke-width="0.9" />
<line x1="585.88" y1="267.5" x2="585.88" y2="277.5" stroke="#10b384" stroke-width="0.9" />
<rect x="584.53" y="231.65" width="2.7" height="35.5" fill="#0e2b35" stroke="#10b384" stroke-width="0.7" />
<line x1="590.7" y1="222.2" x2="590.7" y2="245.5" stroke="#f2695e" stroke-width="0.9" opacity="0.75"/>
<rect x="589" y="231.3" width="3.4" height="7" fill="#f2695e" />
<line x1="595.51" y1="228.8" x2="595.51" y2="232.2" stroke="#10b384" stroke-width="0.9" />
<line x1="595.51" y1="238.3" x2="595.51" y2="244.2" stroke="#10b384" stroke-width="0.9" />
<rect x="594.16" y="232.55" width="2.7" height="5.4" fill="#0e2b35" stroke="#10b384" stroke-width="0.7" />
<line x1="600.33" y1="230" x2="600.33" y2="256.3" stroke="#f2695e" stroke-width="0.9" opacity="0.75"/>
<rect x="598.63" y="232" width="3.4" height="15.8" fill="#f2695e" />
<line x1="605.15" y1="214.7" x2="605.15" y2="217.5" stroke="#10b384" stroke-width="0.9" />
<line x1="605.15" y1="247.8" x2="605.15" y2="254.7" stroke="#10b384" stroke-width="0.9" />
<rect x="603.8" y="217.85" width="2.7" height="29.6" fill="#0e2b35" stroke="#10b384" stroke-width="0.7" />
<line x1="609.97" y1="201.2" x2="609.97" y2="205.3" stroke="#10b384" stroke-width="0.9" />
<line x1="609.97" y1="218" x2="609.97" y2="220" stroke="#10b384" stroke-width="0.9" />
<rect x="608.62" y="205.65" width="2.7" height="12" fill="#0e2b35" stroke="#10b384" stroke-width="0.7" />
<line x1="614.79" y1="199.2" x2="614.79" y2="213.8" stroke="#f2695e" stroke-width="0.9" opacity="0.75"/>
<rect x="613.09" y="205" width="3.4" height="3.7" fill="#f2695e" />
<line x1="619.6" y1="205.8" x2="619.6" y2="225" stroke="#f2695e" stroke-width="0.9" opacity="0.75"/>
<rect x="617.9" y="208.3" width="3.4" height="15.9" fill="#f2695e" />
<line x1="624.42" y1="213.3" x2="624.42" y2="231.7" stroke="#f2695e" stroke-width="0.9" opacity="0.75"/>
<rect x="622.72" y="223.3" width="3.4" height="2.5" fill="#f2695e" />
<line x1="629.24" y1="224.5" x2="629.24" y2="251.7" stroke="#f2695e" stroke-width="0.9" opacity="0.75"/>
<rect x="627.54" y="225" width="3.4" height="20.8" fill="#f2695e" />
<line x1="634.06" y1="239.2" x2="634.06" y2="254.5" stroke="#f2695e" stroke-width="0.9" opacity="0.75"/>
<rect x="632.36" y="245" width="3.4" height="3.8" fill="#f2695e" />
<line x1="638.88" y1="242.5" x2="638.88" y2="246.7" stroke="#10b384" stroke-width="0.9" />
<line x1="638.88" y1="248.3" x2="638.88" y2="268.3" stroke="#10b384" stroke-width="0.9" />
<rect x="637.53" y="247.05" width="2.7" height="0.9" fill="#0e2b35" stroke="#10b384" stroke-width="0.7" />
<line x1="643.69" y1="245.5" x2="643.69" y2="289.2" stroke="#f2695e" stroke-width="0.9" opacity="0.75"/>
<rect x="641.99" y="246.7" width="3.4" height="39.1" fill="#f2695e" />
<line x1="648.51" y1="268.3" x2="648.51" y2="276.7" stroke="#10b384" stroke-width="0.9" />
<line x1="648.51" y1="285" x2="648.51" y2="315.3" stroke="#10b384" stroke-width="0.9" />
<rect x="647.16" y="277.05" width="2.7" height="7.6" fill="#0e2b35" stroke="#10b384" stroke-width="0.7" />
<line x1="653.33" y1="253.7" x2="653.33" y2="265.3" stroke="#10b384" stroke-width="0.9" />
<line x1="653.33" y1="276.7" x2="653.33" y2="284.2" stroke="#10b384" stroke-width="0.9" />
<rect x="651.98" y="265.65" width="2.7" height="10.7" fill="#0e2b35" stroke="#10b384" stroke-width="0.7" />
<line x1="658.15" y1="250" x2="658.15" y2="255.8" stroke="#10b384" stroke-width="0.9" />
<line x1="658.15" y1="265.3" x2="658.15" y2="277.5" stroke="#10b384" stroke-width="0.9" />
<rect x="656.8" y="256.15" width="2.7" height="8.8" fill="#0e2b35" stroke="#10b384" stroke-width="0.7" />
<line x1="662.97" y1="248" x2="662.97" y2="289.2" stroke="#f2695e" stroke-width="0.9" opacity="0.75"/>
<rect x="661.27" y="255.8" width="3.4" height="30" fill="#f2695e" />
<line x1="667.78" y1="274.2" x2="667.78" y2="278.7" stroke="#10b384" stroke-width="0.9" />
<line x1="667.78" y1="285.3" x2="667.78" y2="300" stroke="#10b384" stroke-width="0.9" />
<rect x="666.43" y="279.05" width="2.7" height="5.9" fill="#0e2b35" stroke="#10b384" stroke-width="0.7" />
<line x1="672.6" y1="254.8" x2="672.6" y2="255.3" stroke="#10b384" stroke-width="0.9" />
<line x1="672.6" y1="279.2" x2="672.6" y2="281.7" stroke="#10b384" stroke-width="0.9" />
<rect x="671.25" y="255.65" width="2.7" height="23.2" fill="#0e2b35" stroke="#10b384" stroke-width="0.7" />
<line x1="677.42" y1="250" x2="677.42" y2="263" stroke="#f2695e" stroke-width="0.9" opacity="0.75"/>
<rect x="675.72" y="255.3" width="3.4" height="2.7" fill="#f2695e" />
<line x1="682.24" y1="238.3" x2="682.24" y2="245.8" stroke="#10b384" stroke-width="0.9" />
<line x1="682.24" y1="257.8" x2="682.24" y2="260" stroke="#10b384" stroke-width="0.9" />
<rect x="680.89" y="246.15" width="2.7" height="11.3" fill="#0e2b35" stroke="#10b384" stroke-width="0.7" />
<line x1="687.06" y1="243" x2="687.06" y2="261.7" stroke="#f2695e" stroke-width="0.9" opacity="0.75"/>
<rect x="685.36" y="245" width="3.4" height="8" fill="#f2695e" />
<line x1="691.87" y1="252" x2="691.87" y2="274.2" stroke="#f2695e" stroke-width="0.9" opacity="0.75"/>
<rect x="690.17" y="252.5" width="3.4" height="14.4" fill="#f2695e" />
<line x1="696.69" y1="261.7" x2="696.69" y2="264" stroke="#10b384" stroke-width="0.9" />
<line x1="696.69" y1="267.3" x2="696.69" y2="274.7" stroke="#10b384" stroke-width="0.9" />
<rect x="695.34" y="264.35" width="2.7" height="2.6" fill="#0e2b35" stroke="#10b384" stroke-width="0.7" />
<line x1="701.51" y1="253.3" x2="701.51" y2="255.8" stroke="#10b384" stroke-width="0.9" />
<line x1="701.51" y1="264" x2="701.51" y2="268.3" stroke="#10b384" stroke-width="0.9" />
<rect x="700.16" y="256.15" width="2.7" height="7.5" fill="#0e2b35" stroke="#10b384" stroke-width="0.7" />
<line x1="706.33" y1="243.8" x2="706.33" y2="250" stroke="#10b384" stroke-width="0.9" />
<line x1="706.33" y1="255.8" x2="706.33" y2="258.3" stroke="#10b384" stroke-width="0.9" />
<rect x="704.98" y="250.35" width="2.7" height="5.1" fill="#0e2b35" stroke="#10b384" stroke-width="0.7" />
<line x1="711.15" y1="249.3" x2="711.15" y2="270.2" stroke="#f2695e" stroke-width="0.9" opacity="0.75"/>
<rect x="709.45" y="250" width="3.4" height="15.8" fill="#f2695e" />
<line x1="715.96" y1="251.4" x2="715.96" y2="259.2" stroke="#10b384" stroke-width="0.9" />
<line x1="715.96" y1="265.6" x2="715.96" y2="266.3" stroke="#10b384" stroke-width="0.9" />
<rect x="714.61" y="259.55" width="2.7" height="5.7" fill="#0e2b35" stroke="#10b384" stroke-width="0.7" />
<line x1="720.78" y1="252" x2="720.78" y2="264" stroke="#f2695e" stroke-width="0.9" opacity="0.75"/>
<rect x="719.08" y="260.3" width="3.4" height="3.2" fill="#f2695e" />
<line x1="725.6" y1="262.8" x2="725.6" y2="280.8" stroke="#f2695e" stroke-width="0.9" opacity="0.75"/>
<rect x="723.9" y="263.4" width="3.4" height="9.6" fill="#f2695e" />
<line x1="730.42" y1="267.6" x2="730.42" y2="271.6" stroke="#10b384" stroke-width="0.9" />
<line x1="730.42" y1="273" x2="730.42" y2="278.6" stroke="#10b384" stroke-width="0.9" />
<rect x="728.72" y="271.6" width="3.4" height="1.4" fill="#10b384" />
</g>
<polyline points="0,204.2 3.3,191.7 8.3,175 13.3,163.3 18.3,151.7 25,140 33.3,128.3 41.7,119.2 50,108.3 58.3,93.3 65,84.2 70,81.2 75,82.5 83.3,88.7 90,94.2 95,97.5 103.3,96.7 108.3,98 116.7,98 130,97.2 138.3,95.5 146.7,90.8 156.7,86.7 166.7,77.5 175,70.8 180,67.5 190,64.7 200,63.7 210,66.7 220,70.8 230,74.7 240,73 251.7,70.8 260,74.2 266.7,74.7 276.7,73.3 290,73.7 296.7,71.7 306.7,68.3 311.7,65.3 318.3,64.7 325,61.7 338.3,60.8 346.7,59.2 360,54.2 368.3,50 378.3,50.8 388.3,52 403.3,55.8 410,63.3 418.3,73.3 426.7,80.5 435,76.7 443.3,75.8 451.7,73.7 461.7,73 468.3,70 480,60.8 484.7,54.5 488.3,55.3 494.2,54.2 508.3,57.8 516.7,68.3 525,81.7 531.7,98.3 536.7,112.5 539.5,122 542,132.3 552.4,152.4 562.5,180 566.7,190 571.7,198.3 576.7,206.2 580,204.7 585.8,209.2 605,209.2 610,205 618.3,204.2 630,203.7 638.3,204.2 645,200.8 650,200.8 656.7,203.3 665,201.7 678.3,201.7 686.7,203.3 696.7,205.8 703.3,211.7 707.3,220 713.4,228.7 720.4,237 725.7,239.2 730.4,241.3" fill="none" stroke="#c4b42d" stroke-width="1.12" stroke-linejoin="round" stroke-linecap="round" />
<polyline points="0,255.8 8.3,246.7 16.7,235 25,225 33.3,215 50,190 58.3,175.8 66.7,161.7 71.7,155.8 83.3,147.5 93.3,141.3 100,142 108.3,139.2 116.7,138 130,137 141.7,135 150,132.5 166.7,129.2 180,123 190,114.2 200,107.5 210,105.8 220,103.3 230,100 240,98.3 250,97.5 263.3,98 280,98 293.3,97.5 303.3,94.2 313.3,88.3 321.7,84.2 330,82.8 338.3,83.7 346.7,85.5 355,88.3 360,89.7 370,94.5 378.3,95.8 388.3,98.3 400,100 408.3,103.3 418.3,107.5 426.7,109.2 435,107.5 446.7,107 455,108 465,108.3 473.3,112.5 481.7,120 490,130 498.3,140 506.7,151.7 515,161.7 523.3,173.3 530,185 536.7,196.7 540,200.8 548.3,210 556.7,219.2 565,227.5 573.3,233.3 585,238 595,238 606.7,237.5 618.3,236.7 626.7,234.7 635,235 643.3,238.7 653.3,242.5 663.3,245.8 671.7,246.7 680,245.8 686.7,247 695,250 703.3,253.7 710,256.7 720,260.8 730.4,263.2" fill="none" stroke="#b9bcc9" stroke-width="1.12" stroke-linejoin="round" stroke-linecap="round" />
<polyline points="0,317.5 3.3,328.3 7.5,339.5 11.7,338.7 17.5,343.8 22.5,342.5 30,335 36.7,323.3 41.7,311.7 50,298.8 56.7,291.7 66.7,265 75,241.7 80.8,225 83.3,216.7 88.3,203.3 94.2,191.7 99.2,193.3 108.3,187.5 116.7,185 128.3,183.8 133.3,181.7 141.7,181.7 150,183.8 156.7,185.5 166.7,193 173.3,190.8 180,187.5 188.3,175 195,163.3 205,154.2 213.3,145.8 220,140.8 226.7,131.7 233.3,126.8 243.3,125.5 253.3,125 263.3,123.5 273.3,123.2 285,124.2 296.7,125 305,120.8 311.7,117.5 316.7,111.7 323.3,109.2 330.6,104.8 334.8,106 340.4,109.5 346,111.6 351.6,117.9 355.8,125.6 360,131.2 364.2,138.8 368.4,145.1 374,147.9 381,150 388,152.4 395,152.8 402,152.4 408.3,149.5 413.3,148.3 418.3,144.2 426.7,140.3 431.7,141.7 445,141.3 451.7,144.7 460,146.2 465,150 470,160 476.7,175 481.7,191.7 485,208.3 489.2,223.3 491.7,230 496.7,247.5 501.7,267.5 506.7,281.7 511.7,291.7 518.3,300 526.7,306.7 533.3,309.2 536.7,307.5 540,303.3 543.3,297.5 548.3,294.2 553.3,287.5 556.7,281.7 563.3,273.3 570,267.2 575,266.7 580.8,271.3 586.7,269.7 595,270 603.3,268 610,270.8 618.3,272 630,268.3 636.7,269.7 641.7,275 648.3,285 656.7,289.2 663.3,295 667.5,299.2 673.3,296.7 681.7,296.3 690,299.2 696.7,301.3 703.3,299.7 710,294 715,289.5 720.4,286.4 725.7,286.4 730.4,287.3" fill="none" stroke="#b3489f" stroke-width="1.12" stroke-linejoin="round" stroke-linecap="round" />
<g id="volume">
<rect x="1.55" y="412.05" width="2.7" height="26.75" fill="#0e2b35" stroke="#10b384" stroke-width="0.7" />
<rect x="6.37" y="416.55" width="2.7" height="22.25" fill="#0e2b35" stroke="#10b384" stroke-width="0.7" />
<rect x="10.84" y="420" width="3.4" height="18.8" fill="#f2695e" />
<rect x="16" y="421.55" width="2.7" height="17.25" fill="#0e2b35" stroke="#10b384" stroke-width="0.7" />
<rect x="20.47" y="422" width="3.4" height="16.8" fill="#f2695e" />
<rect x="25.29" y="425.8" width="3.4" height="13" fill="#f2695e" />
<rect x="30.46" y="423.65" width="2.7" height="15.15" fill="#0e2b35" stroke="#10b384" stroke-width="0.7" />
<rect x="34.93" y="423.7" width="3.4" height="15.1" fill="#f2695e" />
<rect x="40.09" y="421.65" width="2.7" height="17.15" fill="#0e2b35" stroke="#10b384" stroke-width="0.7" />
<rect x="44.91" y="422.85" width="2.7" height="15.95" fill="#0e2b35" stroke="#10b384" stroke-width="0.7" />
<rect x="49.38" y="426.2" width="3.4" height="12.6" fill="#f2695e" />
<rect x="54.55" y="423.65" width="2.7" height="15.15" fill="#0e2b35" stroke="#10b384" stroke-width="0.7" />
<rect x="59.02" y="422.5" width="3.4" height="16.3" fill="#f2695e" />
<rect x="64.18" y="427.55" width="2.7" height="11.25" fill="#0e2b35" stroke="#10b384" stroke-width="0.7" />
<rect x="68.65" y="413" width="3.4" height="25.8" fill="#f2695e" />
<rect x="73.47" y="406.7" width="3.4" height="32.1" fill="#f2695e" />
<rect x="78.64" y="421.55" width="2.7" height="17.25" fill="#0e2b35" stroke="#10b384" stroke-width="0.7" />
<rect x="83.11" y="422" width="3.4" height="16.8" fill="#f2695e" />
<rect x="87.92" y="417.5" width="3.4" height="21.3" fill="#f2695e" />
<rect x="92.74" y="425.8" width="3.4" height="13" fill="#f2695e" />
<rect x="97.56" y="422" width="3.4" height="16.8" fill="#f2695e" />
<rect x="102.73" y="422.85" width="2.7" height="15.95" fill="#0e2b35" stroke="#10b384" stroke-width="0.7" />
<rect x="107.2" y="425.8" width="3.4" height="13" fill="#f2695e" />
<rect x="112.36" y="423.35" width="2.7" height="15.45" fill="#0e2b35" stroke="#10b384" stroke-width="0.7" />
<rect x="116.83" y="423" width="3.4" height="15.8" fill="#f2695e" />
<rect x="122" y="423.65" width="2.7" height="15.15" fill="#0e2b35" stroke="#10b384" stroke-width="0.7" />
<rect x="126.82" y="429.55" width="2.7" height="9.25" fill="#0e2b35" stroke="#10b384" stroke-width="0.7" />
<rect x="131.64" y="427.85" width="2.7" height="10.95" fill="#0e2b35" stroke="#10b384" stroke-width="0.7" />
<rect x="136.45" y="425.85" width="2.7" height="12.95" fill="#0e2b35" stroke="#10b384" stroke-width="0.7" />
<rect x="141.27" y="425.85" width="2.7" height="12.95" fill="#0e2b35" stroke="#10b384" stroke-width="0.7" />
<rect x="146.09" y="422.55" width="2.7" height="16.25" fill="#0e2b35" stroke="#10b384" stroke-width="0.7" />
<rect x="150.91" y="422.85" width="2.7" height="15.95" fill="#0e2b35" stroke="#10b384" stroke-width="0.7" />
<rect x="155.38" y="425" width="3.4" height="13.8" fill="#f2695e" />
<rect x="160.54" y="422.55" width="2.7" height="16.25" fill="#0e2b35" stroke="#10b384" stroke-width="0.7" />
<rect x="165.01" y="427.8" width="3.4" height="11" fill="#f2695e" />
<rect x="169.83" y="418.3" width="3.4" height="20.5" fill="#f2695e" />
<rect x="175" y="424.55" width="2.7" height="14.25" fill="#0e2b35" stroke="#10b384" stroke-width="0.7" />
<rect x="179.82" y="424.55" width="2.7" height="14.25" fill="#0e2b35" stroke="#10b384" stroke-width="0.7" />
<rect x="184.28" y="425.8" width="3.4" height="13" fill="#f2695e" />
<rect x="189.45" y="428.15" width="2.7" height="10.65" fill="#0e2b35" stroke="#10b384" stroke-width="0.7" />
<rect x="194.27" y="429.15" width="2.7" height="9.65" fill="#0e2b35" stroke="#10b384" stroke-width="0.7" />
<rect x="198.74" y="428.3" width="3.4" height="10.5" fill="#f2695e" />
<rect x="203.56" y="426.2" width="3.4" height="12.6" fill="#f2695e" />
<rect x="208.72" y="427.85" width="2.7" height="10.95" fill="#0e2b35" stroke="#10b384" stroke-width="0.7" />
<rect x="213.19" y="422.2" width="3.4" height="16.6" fill="#f2695e" />
<rect x="218.01" y="421.7" width="3.4" height="17.1" fill="#f2695e" />
<rect x="223.18" y="425.85" width="2.7" height="12.95" fill="#0e2b35" stroke="#10b384" stroke-width="0.7" />
<rect x="228" y="428.65" width="2.7" height="10.15" fill="#0e2b35" stroke="#10b384" stroke-width="0.7" />
<rect x="232.46" y="430.5" width="3.4" height="8.3" fill="#f2695e" />
<rect x="237.63" y="425.65" width="2.7" height="13.15" fill="#0e2b35" stroke="#10b384" stroke-width="0.7" />
<rect x="242.45" y="427.05" width="2.7" height="11.75" fill="#0e2b35" stroke="#10b384" stroke-width="0.7" />
<rect x="246.92" y="426.7" width="3.4" height="12.1" fill="#f2695e" />
<rect x="251.74" y="428.7" width="3.4" height="10.1" fill="#f2695e" />
<rect x="256.9" y="428.65" width="2.7" height="10.15" fill="#0e2b35" stroke="#10b384" stroke-width="0.7" />
<rect x="261.37" y="428.3" width="3.4" height="10.5" fill="#f2695e" />
<rect x="266.54" y="429.55" width="2.7" height="9.25" fill="#0e2b35" stroke="#10b384" stroke-width="0.7" />
<rect x="271.36" y="429.15" width="2.7" height="9.65" fill="#0e2b35" stroke="#10b384" stroke-width="0.7" />
<rect x="275.83" y="428.3" width="3.4" height="10.5" fill="#f2695e" />
<rect x="280.64" y="424.2" width="3.4" height="14.6" fill="#f2695e" />
<rect x="285.81" y="429.55" width="2.7" height="9.25" fill="#0e2b35" stroke="#10b384" stroke-width="0.7" />
<rect x="290.63" y="430.05" width="2.7" height="8.75" fill="#0e2b35" stroke="#10b384" stroke-width="0.7" />
<rect x="295.45" y="424.55" width="2.7" height="14.25" fill="#0e2b35" stroke="#10b384" stroke-width="0.7" />
<rect x="300.27" y="430.05" width="2.7" height="8.75" fill="#0e2b35" stroke="#10b384" stroke-width="0.7" />
<rect x="304.73" y="428.3" width="3.4" height="10.5" fill="#f2695e" />
<rect x="309.9" y="422.85" width="2.7" height="15.95" fill="#0e2b35" stroke="#10b384" stroke-width="0.7" />
<rect x="314.37" y="422.5" width="3.4" height="16.3" fill="#f2695e" />
<rect x="319.54" y="427.85" width="2.7" height="10.95" fill="#0e2b35" stroke="#10b384" stroke-width="0.7" />
<rect x="324.01" y="420.8" width="3.4" height="18" fill="#f2695e" />
<rect x="328.82" y="426.7" width="3.4" height="12.1" fill="#f2695e" />
<rect x="333.64" y="415" width="3.4" height="23.8" fill="#f2695e" />
<rect x="338.46" y="423.3" width="3.4" height="15.5" fill="#f2695e" />
<rect x="343.63" y="424.55" width="2.7" height="14.25" fill="#0e2b35" stroke="#10b384" stroke-width="0.7" />
<rect x="348.1" y="425" width="3.4" height="13.8" fill="#f2695e" />
<rect x="352.91" y="418.3" width="3.4" height="20.5" fill="#f2695e" />
<rect x="357.73" y="414.2" width="3.4" height="24.6" fill="#f2695e" />
<rect x="362.55" y="427.5" width="3.4" height="11.3" fill="#f2695e" />
<rect x="367.37" y="426.7" width="3.4" height="12.1" fill="#f2695e" />
<rect x="372.54" y="422.05" width="2.7" height="16.75" fill="#0e2b35" stroke="#10b384" stroke-width="0.7" />
<rect x="377.35" y="427.85" width="2.7" height="10.95" fill="#0e2b35" stroke="#10b384" stroke-width="0.7" />
<rect x="381.82" y="427.5" width="3.4" height="11.3" fill="#f2695e" />
<rect x="386.64" y="427.5" width="3.4" height="11.3" fill="#f2695e" />
<rect x="391.81" y="425.35" width="2.7" height="13.45" fill="#0e2b35" stroke="#10b384" stroke-width="0.7" />
<rect x="396.63" y="430.35" width="2.7" height="8.45" fill="#0e2b35" stroke="#10b384" stroke-width="0.7" />
<rect x="401.09" y="430.8" width="3.4" height="8" fill="#f2695e" />
<rect x="406.26" y="427.85" width="2.7" height="10.95" fill="#0e2b35" stroke="#10b384" stroke-width="0.7" />
<rect x="410.73" y="422" width="3.4" height="16.8" fill="#f2695e" />
<rect x="415.9" y="423.65" width="2.7" height="15.15" fill="#0e2b35" stroke="#10b384" stroke-width="0.7" />
<rect x="420.37" y="424.2" width="3.4" height="14.6" fill="#f2695e" />
<rect x="425.53" y="424.55" width="2.7" height="14.25" fill="#0e2b35" stroke="#10b384" stroke-width="0.7" />
<rect x="430.35" y="425.35" width="2.7" height="13.45" fill="#0e2b35" stroke="#10b384" stroke-width="0.7" />
<rect x="434.82" y="425" width="3.4" height="13.8" fill="#f2695e" />
<rect x="439.64" y="420.8" width="3.4" height="18" fill="#f2695e" />
<rect x="444.81" y="425.35" width="2.7" height="13.45" fill="#0e2b35" stroke="#10b384" stroke-width="0.7" />
<rect x="449.27" y="419.2" width="3.4" height="19.6" fill="#f2695e" />
<rect x="454.44" y="411.55" width="2.7" height="27.25" fill="#0e2b35" stroke="#10b384" stroke-width="0.7" />
<rect x="459.26" y="422.85" width="2.7" height="15.95" fill="#0e2b35" stroke="#10b384" stroke-width="0.7" />
<rect x="463.73" y="421.2" width="3.4" height="17.6" fill="#f2695e" />
<rect x="468.55" y="417.2" width="3.4" height="21.6" fill="#f2695e" />
<rect x="473.36" y="407.2" width="3.4" height="31.6" fill="#f2695e" />
<rect x="478.18" y="416.7" width="3.4" height="22.1" fill="#f2695e" />
<rect x="483" y="372" width="3.4" height="66.8" fill="#f2695e" />
<rect x="488.17" y="400.85" width="2.7" height="37.95" fill="#0e2b35" stroke="#10b384" stroke-width="0.7" />
<rect x="492.64" y="400.5" width="3.4" height="38.3" fill="#f2695e" />
<rect x="497.8" y="414.55" width="2.7" height="24.25" fill="#0e2b35" stroke="#10b384" stroke-width="0.7" />
<rect x="502.27" y="398" width="3.4" height="40.8" fill="#f2695e" />
<rect x="507.44" y="407.85" width="2.7" height="30.95" fill="#0e2b35" stroke="#10b384" stroke-width="0.7" />
<rect x="511.91" y="417.2" width="3.4" height="21.6" fill="#f2695e" />
<rect x="517.08" y="418.65" width="2.7" height="20.15" fill="#0e2b35" stroke="#10b384" stroke-width="0.7" />
<rect x="521.54" y="421.7" width="3.4" height="17.1" fill="#f2695e" />
<rect x="526.36" y="412.2" width="3.4" height="26.6" fill="#f2695e" />
<rect x="531.18" y="417.2" width="3.4" height="21.6" fill="#f2695e" />
<rect x="536.35" y="423.65" width="2.7" height="15.15" fill="#0e2b35" stroke="#10b384" stroke-width="0.7" />
<rect x="541.17" y="420.35" width="2.7" height="18.45" fill="#0e2b35" stroke="#10b384" stroke-width="0.7" />
<rect x="545.63" y="422.5" width="3.4" height="16.3" fill="#f2695e" />
<rect x="550.8" y="425.65" width="2.7" height="13.15" fill="#0e2b35" stroke="#10b384" stroke-width="0.7" />
<rect x="555.62" y="424.55" width="2.7" height="14.25" fill="#0e2b35" stroke="#10b384" stroke-width="0.7" />
<rect x="560.09" y="421.3" width="3.4" height="17.5" fill="#f2695e" />
<rect x="564.91" y="424.2" width="3.4" height="14.6" fill="#f2695e" />
<rect x="570.07" y="428.65" width="2.7" height="10.15" fill="#0e2b35" stroke="#10b384" stroke-width="0.7" />
<rect x="574.54" y="424.2" width="3.4" height="14.6" fill="#f2695e" />
<rect x="579.36" y="415" width="3.4" height="23.8" fill="#f2695e" />
<rect x="584.53" y="412.85" width="2.7" height="25.95" fill="#0e2b35" stroke="#10b384" stroke-width="0.7" />
<rect x="589" y="417.2" width="3.4" height="21.6" fill="#f2695e" />
<rect x="594.16" y="423.35" width="2.7" height="15.45" fill="#0e2b35" stroke="#10b384" stroke-width="0.7" />
<rect x="598.63" y="421.3" width="3.4" height="17.5" fill="#f2695e" />
<rect x="603.8" y="422.05" width="2.7" height="16.75" fill="#0e2b35" stroke="#10b384" stroke-width="0.7" />
<rect x="608.62" y="417.85" width="2.7" height="20.95" fill="#0e2b35" stroke="#10b384" stroke-width="0.7" />
<rect x="613.09" y="422.2" width="3.4" height="16.6" fill="#f2695e" />
<rect x="617.9" y="421.3" width="3.4" height="17.5" fill="#f2695e" />
<rect x="622.72" y="423.3" width="3.4" height="15.5" fill="#f2695e" />
<rect x="627.54" y="421.3" width="3.4" height="17.5" fill="#f2695e" />
<rect x="632.36" y="425" width="3.4" height="13.8" fill="#f2695e" />
<rect x="637.53" y="422.05" width="2.7" height="16.75" fill="#0e2b35" stroke="#10b384" stroke-width="0.7" />
<rect x="641.99" y="406.7" width="3.4" height="32.1" fill="#f2695e" />
<rect x="647.16" y="400.35" width="2.7" height="38.45" fill="#0e2b35" stroke="#10b384" stroke-width="0.7" />
<rect x="651.98" y="414.55" width="2.7" height="24.25" fill="#0e2b35" stroke="#10b384" stroke-width="0.7" />
<rect x="656.8" y="422.05" width="2.7" height="16.75" fill="#0e2b35" stroke="#10b384" stroke-width="0.7" />
<rect x="661.27" y="416.1" width="3.4" height="22.7" fill="#f2695e" />
<rect x="666.43" y="417.05" width="2.7" height="21.75" fill="#0e2b35" stroke="#10b384" stroke-width="0.7" />
<rect x="671.25" y="419.25" width="2.7" height="19.55" fill="#0e2b35" stroke="#10b384" stroke-width="0.7" />
<rect x="675.72" y="422.2" width="3.4" height="16.6" fill="#f2695e" />
<rect x="680.89" y="421.15" width="2.7" height="17.65" fill="#0e2b35" stroke="#10b384" stroke-width="0.7" />
<rect x="685.36" y="423.3" width="3.4" height="15.5" fill="#f2695e" />
<rect x="690.17" y="424.1" width="3.4" height="14.7" fill="#f2695e" />
<rect x="695.34" y="428.15" width="2.7" height="10.65" fill="#0e2b35" stroke="#10b384" stroke-width="0.7" />
<rect x="700.16" y="430.15" width="2.7" height="8.65" fill="#0e2b35" stroke="#10b384" stroke-width="0.7" />
<rect x="704.98" y="430.15" width="2.7" height="8.65" fill="#0e2b35" stroke="#10b384" stroke-width="0.7" />
<rect x="709.45" y="425.8" width="3.4" height="13" fill="#f2695e" />
<rect x="714.61" y="427.55" width="2.7" height="11.25" fill="#0e2b35" stroke="#10b384" stroke-width="0.7" />
<rect x="719.08" y="427.8" width="3.4" height="11" fill="#f2695e" />
<rect x="723.9" y="424.1" width="3.4" height="14.7" fill="#f2695e" />
<rect x="728.72" y="434.4" width="3.4" height="4.4" fill="#10b384" />
<rect x="729.07" y="428.6" width="2.7" height="10" fill="none" stroke="#6b7084" stroke-width="0.6" stroke-dasharray="0.9 0.9"/>
</g>
<polyline points="0,420.83 8.33,417.5 21.67,418.67 33.33,423.33 41.67,422 50,423 66.67,424.17 75,419.17 83.33,418.33 90,416.67 100,422 113.33,422.5 125,424.17 133.33,425.83 150,425 166.67,424.17 180,424.17 196.67,428.33 213.33,427.5 223.33,424.17 235,427.5 255,428.33 271.67,428.67 288.33,428.33 305,428 321.67,425.83 338.33,423 355,422.5 360,421.67 376.67,424.17 393.33,426.67 406.67,428.33 418.33,425.83 426.67,424.17 443.33,424.17 451.67,421.67 460,419.67 473.33,416.67 480,413.33 485,406.67 490,401.33 495,399.17 500,400.83 504.17,397.5 510,405.83 518.33,411.67 526.67,415 535,418.33 540,419.17 548.33,420 556.67,424.17 573.33,424.17 581.67,421.67 590,420 600,418 610,420 623.33,421.67 635,423 641.67,421.33 648.33,415 656.67,413 663.33,412 670,415.83 676.67,418.67 686.67,420.83 698.33,425.83 706.67,428 715,427.5 720,428.67 725.6,426.5 730.4,428" fill="none" stroke="#b9bcc9" stroke-width="0.95" stroke-linejoin="round" stroke-linecap="round" />
<polyline points="0,421.67 16.67,419.67 33.33,420.83 50,422 66.67,423 75,420.83 91.67,419.67 113.33,420 125,423.33 141.67,424.5 166.67,425.33 180,424.17 196.67,425 213.33,426.67 230,426.33 246.67,426.67 263.33,428 280,428.33 296.67,428.33 313.33,427 330,425.83 346.67,423.33 360,422 376.67,422.5 393.33,424.17 406.67,427.5 418.33,426.67 435,425.33 446.67,425 456.67,423 468.33,421.67 476.67,418.33 485,413.33 493.33,409.67 501.67,408.33 510,405 518.33,405 528.33,407.5 535,412 540,414.17 548.33,416.67 556.67,420.83 573.33,423.33 583.33,422 595,421.33 606.67,420 618.33,419.67 628.33,420 635,422 643.33,420 650,417.5 660,417.5 668.33,416.33 676.67,417 685,416.33 691.67,418 698.33,421.67 706.67,424.17 715,425.83 720,426.67 725.6,425 730.4,427" fill="none" stroke="#c4b42d" stroke-width="0.95" stroke-linejoin="round" stroke-linecap="round" />
<g id="macd">
<rect x="1.55" y="487.35" width="2.7" height="11.2" fill="#0f2d38" stroke="#10b384" stroke-width="0.7" stroke-opacity="0.85"/>
<rect x="6.37" y="483.65" width="2.7" height="14.9" fill="#0f2d38" stroke="#10b384" stroke-width="0.7" stroke-opacity="0.85"/>
<rect x="10.84" y="484.2" width="3.4" height="14.7" fill="#10b384" />
<rect x="16" y="483.15" width="2.7" height="15.4" fill="#0f2d38" stroke="#10b384" stroke-width="0.7" stroke-opacity="0.85"/>
<rect x="20.47" y="483.7" width="3.4" height="15.2" fill="#10b384" />
<rect x="25.29" y="485.3" width="3.4" height="13.6" fill="#10b384" />
<rect x="30.11" y="486.2" width="3.4" height="12.7" fill="#10b384" />
<rect x="34.93" y="488.7" width="3.4" height="10.2" fill="#10b384" />
<rect x="39.74" y="490" width="3.4" height="8.9" fill="#10b384" />
<rect x="44.91" y="488.65" width="2.7" height="9.9" fill="#0f2d38" stroke="#10b384" stroke-width="0.7" stroke-opacity="0.85"/>
<rect x="49.38" y="489.5" width="3.4" height="9.4" fill="#10b384" />
<rect x="54.55" y="487.65" width="2.7" height="10.9" fill="#0f2d38" stroke="#10b384" stroke-width="0.7" stroke-opacity="0.85"/>
<rect x="59.37" y="487.05" width="2.7" height="11.5" fill="#0f2d38" stroke="#10b384" stroke-width="0.7" stroke-opacity="0.85"/>
<rect x="64.18" y="487.05" width="2.7" height="11.5" fill="#0f2d38" stroke="#10b384" stroke-width="0.7" stroke-opacity="0.85"/>
<rect x="68.65" y="490.3" width="3.4" height="8.6" fill="#10b384" />
<rect x="73.47" y="497" width="3.4" height="1.9" fill="#10b384" />
<rect x="78.29" y="498.9" width="3.4" height="3.9" fill="#f2695e" />
<rect x="83.11" y="498.9" width="3.4" height="9.8" fill="#f2695e" />
<rect x="87.92" y="498.9" width="3.4" height="13.4" fill="#f2695e" />
<rect x="92.74" y="498.9" width="3.4" height="16.1" fill="#f2695e" />
<rect x="97.56" y="498.9" width="3.4" height="17.8" fill="#f2695e" />
<rect x="102.73" y="499.25" width="2.7" height="14.1" fill="#2a1c2c" stroke="#f2695e" stroke-width="0.7" stroke-opacity="0.85"/>
<rect x="107.55" y="499.25" width="2.7" height="13.2" fill="#2a1c2c" stroke="#f2695e" stroke-width="0.7" stroke-opacity="0.85"/>
<rect x="112.36" y="499.25" width="2.7" height="10.4" fill="#2a1c2c" stroke="#f2695e" stroke-width="0.7" stroke-opacity="0.85"/>
<rect x="117.18" y="499.25" width="2.7" height="9.9" fill="#2a1c2c" stroke="#f2695e" stroke-width="0.7" stroke-opacity="0.85"/>
<rect x="122" y="499.25" width="2.7" height="9.1" fill="#2a1c2c" stroke="#f2695e" stroke-width="0.7" stroke-opacity="0.85"/>
<rect x="126.82" y="499.25" width="2.7" height="8.2" fill="#2a1c2c" stroke="#f2695e" stroke-width="0.7" stroke-opacity="0.85"/>
<rect x="131.64" y="499.25" width="2.7" height="5.7" fill="#2a1c2c" stroke="#f2695e" stroke-width="0.7" stroke-opacity="0.85"/>
<rect x="136.45" y="499.25" width="2.7" height="2.9" fill="#2a1c2c" stroke="#f2695e" stroke-width="0.7" stroke-opacity="0.85"/>
<rect x="140.92" y="497.3" width="3.4" height="1.6" fill="#10b384" />
<rect x="146.09" y="495.65" width="2.7" height="2.9" fill="#0f2d38" stroke="#10b384" stroke-width="0.7" stroke-opacity="0.85"/>
<rect x="150.91" y="492.35" width="2.7" height="6.2" fill="#0f2d38" stroke="#10b384" stroke-width="0.7" stroke-opacity="0.85"/>
<rect x="155.73" y="492.05" width="2.7" height="6.5" fill="#0f2d38" stroke="#10b384" stroke-width="0.7" stroke-opacity="0.85"/>
<rect x="160.54" y="489.05" width="2.7" height="9.5" fill="#0f2d38" stroke="#10b384" stroke-width="0.7" stroke-opacity="0.85"/>
<rect x="165.01" y="489" width="3.4" height="9.9" fill="#10b384" />
<rect x="169.83" y="492.8" width="3.4" height="6.1" fill="#10b384" />
<rect x="174.65" y="495.3" width="3.4" height="3.6" fill="#10b384" />
<rect x="179.47" y="495.3" width="3.4" height="3.6" fill="#10b384" />
<rect x="184.28" y="496.7" width="3.4" height="2.2" fill="#10b384" />
<rect x="189.1" y="497.8" width="3.4" height="1.1" fill="#10b384" />
<rect x="193.92" y="498.9" width="3.4" height="0.8" fill="#f2695e" />
<rect x="198.74" y="498.9" width="3.4" height="2.3" fill="#f2695e" />
<rect x="203.56" y="498.9" width="3.4" height="6.8" fill="#f2695e" />
<rect x="208.37" y="498.9" width="3.4" height="8.1" fill="#f2695e" />
<rect x="213.19" y="498.9" width="3.4" height="11.8" fill="#f2695e" />
<rect x="218.01" y="498.9" width="3.4" height="13.9" fill="#f2695e" />
<rect x="223.18" y="499.25" width="2.7" height="11.6" fill="#2a1c2c" stroke="#f2695e" stroke-width="0.7" stroke-opacity="0.85"/>
<rect x="228" y="499.25" width="2.7" height="9.1" fill="#2a1c2c" stroke="#f2695e" stroke-width="0.7" stroke-opacity="0.85"/>
<rect x="232.81" y="499.25" width="2.7" height="7.1" fill="#2a1c2c" stroke="#f2695e" stroke-width="0.7" stroke-opacity="0.85"/>
<rect x="237.63" y="499.25" width="2.7" height="4.9" fill="#2a1c2c" stroke="#f2695e" stroke-width="0.7" stroke-opacity="0.85"/>
<rect x="242.45" y="499.25" width="2.7" height="1.6" fill="#2a1c2c" stroke="#f2695e" stroke-width="0.7" stroke-opacity="0.85"/>
<rect x="246.92" y="498.9" width="3.4" height="0.9" fill="#f2695e" />
<rect x="251.74" y="497.8" width="3.4" height="1.1" fill="#10b384" />
<rect x="256.55" y="497.5" width="3.4" height="1.4" fill="#10b384" />
<rect x="261.37" y="498.9" width="3.4" height="0.8" fill="#f2695e" />
<rect x="266.19" y="498.9" width="3.4" height="1.1" fill="#f2695e" />
<rect x="271.01" y="498.9" width="3.4" height="0.9" fill="#f2695e" />
<rect x="275.83" y="498.9" width="3.4" height="1.1" fill="#f2695e" />
<rect x="280.64" y="498.9" width="3.4" height="3.4" fill="#f2695e" />
<rect x="285.81" y="499.25" width="2.7" height="2.1" fill="#2a1c2c" stroke="#f2695e" stroke-width="0.7" stroke-opacity="0.85"/>
<rect x="290.63" y="499.25" width="2.7" height="2.1" fill="#2a1c2c" stroke="#f2695e" stroke-width="0.7" stroke-opacity="0.85"/>
<rect x="295.1" y="498.9" width="3.4" height="1.1" fill="#f2695e" />
<rect x="299.92" y="497.9" width="3.4" height="1" fill="#10b384" />
<rect x="304.73" y="497.3" width="3.4" height="1.6" fill="#10b384" />
<rect x="309.9" y="495.35" width="2.7" height="3.2" fill="#0f2d38" stroke="#10b384" stroke-width="0.7" stroke-opacity="0.85"/>
<rect x="314.72" y="494.05" width="2.7" height="4.5" fill="#0f2d38" stroke="#10b384" stroke-width="0.7" stroke-opacity="0.85"/>
<rect x="319.54" y="494.05" width="2.7" height="4.5" fill="#0f2d38" stroke="#10b384" stroke-width="0.7" stroke-opacity="0.85"/>
<rect x="324.01" y="495.3" width="3.4" height="3.6" fill="#10b384" />
<rect x="328.82" y="497.3" width="3.4" height="1.6" fill="#10b384" />
<rect x="333.64" y="498.9" width="3.4" height="4.8" fill="#f2695e" />
<rect x="338.46" y="498.9" width="3.4" height="7.8" fill="#f2695e" />
<rect x="343.28" y="498.9" width="3.4" height="9.4" fill="#f2695e" />
<rect x="348.1" y="498.9" width="3.4" height="11.8" fill="#f2695e" />
<rect x="352.91" y="498.9" width="3.4" height="14.8" fill="#f2695e" />
<rect x="357.73" y="498.9" width="3.4" height="16.8" fill="#f2695e" />
<rect x="362.55" y="498.9" width="3.4" height="17.3" fill="#f2695e" />
<rect x="367.37" y="498.9" width="3.4" height="18.1" fill="#f2695e" />
<rect x="372.54" y="499.25" width="2.7" height="13.2" fill="#2a1c2c" stroke="#f2695e" stroke-width="0.7" stroke-opacity="0.85"/>
<rect x="377.35" y="499.25" width="2.7" height="8.2" fill="#2a1c2c" stroke="#f2695e" stroke-width="0.7" stroke-opacity="0.85"/>
<rect x="382.17" y="499.25" width="2.7" height="4.9" fill="#2a1c2c" stroke="#f2695e" stroke-width="0.7" stroke-opacity="0.85"/>
<rect x="386.99" y="499.25" width="2.7" height="4.1" fill="#2a1c2c" stroke="#f2695e" stroke-width="0.7" stroke-opacity="0.85"/>
<rect x="391.46" y="497.3" width="3.4" height="1.6" fill="#10b384" />
<rect x="396.63" y="495.35" width="2.7" height="3.2" fill="#0f2d38" stroke="#10b384" stroke-width="0.7" stroke-opacity="0.85"/>
<rect x="401.44" y="494.55" width="2.7" height="4" fill="#0f2d38" stroke="#10b384" stroke-width="0.7" stroke-opacity="0.85"/>
<rect x="406.26" y="493.15" width="2.7" height="5.4" fill="#0f2d38" stroke="#10b384" stroke-width="0.7" stroke-opacity="0.85"/>
<rect x="410.73" y="496.2" width="3.4" height="2.7" fill="#10b384" />
<rect x="415.9" y="495.65" width="2.7" height="2.9" fill="#0f2d38" stroke="#10b384" stroke-width="0.7" stroke-opacity="0.85"/>
<rect x="420.72" y="495.65" width="2.7" height="2.9" fill="#0f2d38" stroke="#10b384" stroke-width="0.7" stroke-opacity="0.85"/>
<rect x="425.53" y="494.55" width="2.7" height="4" fill="#0f2d38" stroke="#10b384" stroke-width="0.7" stroke-opacity="0.85"/>
<rect x="430.35" y="492.85" width="2.7" height="5.7" fill="#0f2d38" stroke="#10b384" stroke-width="0.7" stroke-opacity="0.85"/>
<rect x="435.17" y="492.85" width="2.7" height="5.7" fill="#0f2d38" stroke="#10b384" stroke-width="0.7" stroke-opacity="0.85"/>
<rect x="439.64" y="495.3" width="3.4" height="3.6" fill="#10b384" />
<rect x="444.46" y="495.8" width="3.4" height="3.1" fill="#10b384" />
<rect x="449.27" y="498.9" width="3.4" height="3.9" fill="#f2695e" />
<rect x="454.09" y="498.9" width="3.4" height="7.8" fill="#f2695e" />
<rect x="458.91" y="498.9" width="3.4" height="9.8" fill="#f2695e" />
<rect x="463.73" y="498.9" width="3.4" height="12.3" fill="#f2695e" />
<rect x="468.55" y="498.9" width="3.4" height="13.9" fill="#f2695e" />
<rect x="473.36" y="498.9" width="3.4" height="16.4" fill="#f2695e" />
<rect x="478.18" y="498.9" width="3.4" height="18.1" fill="#f2695e" />
<rect x="483" y="498.9" width="3.4" height="20.3" fill="#f2695e" />
<rect x="487.82" y="498.9" width="3.4" height="20.9" fill="#f2695e" />
<rect x="492.64" y="498.9" width="3.4" height="21.8" fill="#f2695e" />
<rect x="497.8" y="499.25" width="2.7" height="19.1" fill="#2a1c2c" stroke="#f2695e" stroke-width="0.7" stroke-opacity="0.85"/>
<rect x="502.27" y="498.9" width="3.4" height="20.1" fill="#f2695e" />
<rect x="507.44" y="499.25" width="2.7" height="14.1" fill="#2a1c2c" stroke="#f2695e" stroke-width="0.7" stroke-opacity="0.85"/>
<rect x="512.26" y="499.25" width="2.7" height="10.7" fill="#2a1c2c" stroke="#f2695e" stroke-width="0.7" stroke-opacity="0.85"/>
<rect x="517.08" y="499.25" width="2.7" height="6.1" fill="#2a1c2c" stroke="#f2695e" stroke-width="0.7" stroke-opacity="0.85"/>
<rect x="521.89" y="499.25" width="2.7" height="3.2" fill="#2a1c2c" stroke="#f2695e" stroke-width="0.7" stroke-opacity="0.85"/>
<rect x="526.71" y="499.25" width="2.7" height="3.2" fill="#2a1c2c" stroke="#f2695e" stroke-width="0.7" stroke-opacity="0.85"/>
<rect x="531.18" y="498.9" width="3.4" height="3.9" fill="#f2695e" />
<rect x="536.35" y="499.25" width="2.7" height="1.6" fill="#2a1c2c" stroke="#f2695e" stroke-width="0.7" stroke-opacity="0.85"/>
<rect x="540.82" y="497" width="3.4" height="1.9" fill="#10b384" />
<rect x="545.98" y="496.55" width="2.7" height="2" fill="#0f2d38" stroke="#10b384" stroke-width="0.7" stroke-opacity="0.85"/>
<rect x="550.8" y="494.05" width="2.7" height="4.5" fill="#0f2d38" stroke="#10b384" stroke-width="0.7" stroke-opacity="0.85"/>
<rect x="555.62" y="491.55" width="2.7" height="7" fill="#0f2d38" stroke="#10b384" stroke-width="0.7" stroke-opacity="0.85"/>
<rect x="560.09" y="491.2" width="3.4" height="7.7" fill="#10b384" />
<rect x="564.91" y="491.7" width="3.4" height="7.2" fill="#10b384" />
<rect x="569.72" y="492" width="3.4" height="6.9" fill="#10b384" />
<rect x="574.54" y="493.7" width="3.4" height="5.2" fill="#10b384" />
<rect x="579.36" y="495" width="3.4" height="3.9" fill="#10b384" />
<rect x="584.53" y="492.85" width="2.7" height="5.7" fill="#0f2d38" stroke="#10b384" stroke-width="0.7" stroke-opacity="0.85"/>
<rect x="589.35" y="491.55" width="2.7" height="7" fill="#0f2d38" stroke="#10b384" stroke-width="0.7" stroke-opacity="0.85"/>
<rect x="594.16" y="489.35" width="2.7" height="9.2" fill="#0f2d38" stroke="#10b384" stroke-width="0.7" stroke-opacity="0.85"/>
<rect x="598.63" y="491.2" width="3.4" height="7.7" fill="#10b384" />
<rect x="603.8" y="488.65" width="2.7" height="9.9" fill="#0f2d38" stroke="#10b384" stroke-width="0.7" stroke-opacity="0.85"/>
<rect x="608.62" y="486.55" width="2.7" height="12" fill="#0f2d38" stroke="#10b384" stroke-width="0.7" stroke-opacity="0.85"/>
<rect x="613.44" y="485.15" width="2.7" height="13.4" fill="#0f2d38" stroke="#10b384" stroke-width="0.7" stroke-opacity="0.85"/>
<rect x="617.9" y="486.7" width="3.4" height="12.2" fill="#10b384" />
<rect x="622.72" y="487.5" width="3.4" height="11.4" fill="#10b384" />
<rect x="627.54" y="491.2" width="3.4" height="7.7" fill="#10b384" />
<rect x="632.36" y="493.3" width="3.4" height="5.6" fill="#10b384" />
<rect x="637.18" y="495" width="3.4" height="3.9" fill="#10b384" />
<rect x="641.99" y="498.9" width="3.4" height="1.1" fill="#f2695e" />
<rect x="646.81" y="498.9" width="3.4" height="2.8" fill="#f2695e" />
<rect x="651.63" y="498.9" width="3.4" height="1.8" fill="#f2695e" />
<rect x="656.45" y="498.9" width="3.4" height="1" fill="#f2695e" />
<rect x="661.27" y="498.9" width="3.4" height="2.8" fill="#f2695e" />
<rect x="666.08" y="498.9" width="3.4" height="2.8" fill="#f2695e" />
<rect x="670.9" y="498.9" width="3.4" height="1" fill="#f2695e" />
<rect x="675.72" y="497.1" width="3.4" height="1.8" fill="#10b384" />
<rect x="680.89" y="495.25" width="2.7" height="3.3" fill="#0f2d38" stroke="#10b384" stroke-width="0.7" stroke-opacity="0.85"/>
<rect x="685.71" y="494.25" width="2.7" height="4.3" fill="#0f2d38" stroke="#10b384" stroke-width="0.7" stroke-opacity="0.85"/>
<rect x="690.17" y="495.4" width="3.4" height="3.5" fill="#10b384" />
<rect x="694.99" y="495.6" width="3.4" height="3.3" fill="#10b384" />
<rect x="700.16" y="495.25" width="2.7" height="3.3" fill="#0f2d38" stroke="#10b384" stroke-width="0.7" stroke-opacity="0.85"/>
<rect x="704.98" y="494.25" width="2.7" height="4.3" fill="#0f2d38" stroke="#10b384" stroke-width="0.7" stroke-opacity="0.85"/>
<rect x="709.45" y="494.7" width="3.4" height="4.2" fill="#10b384" />
<rect x="714.26" y="494.9" width="3.4" height="4" fill="#10b384" />
<rect x="719.08" y="495.4" width="3.4" height="3.5" fill="#10b384" />
<rect x="723.9" y="496.9" width="3.4" height="2" fill="#10b384" />
<rect x="728.72" y="497" width="3.4" height="1.9" fill="#10b384" />
</g>
<polyline points="0,487.83 8.33,482 16.67,477.83 25,475.33 33.33,473.67 41.67,472 50,470 58.33,467 66.67,465 71.67,467 78.33,472 86.67,478.67 93.33,483.67 100,487 108.33,487.83 116.67,489 125,489.67 133.33,489.5 141.67,487.33 150,483.67 158.33,479.5 166.67,477 175,478.67 180,478.67 188.33,480.33 196.67,481.17 205,484.5 213.33,489.5 220,492.5 233.33,492.83 240,491.17 246.67,489.5 255,489.5 266.67,489.5 276.67,490 281.67,491.67 293.33,492 300,491.67 308.33,489.5 316.67,487.33 325,487 331.67,488.67 338.33,492.83 346.67,495.33 353.33,499.5 360,505.33 365,508.67 370,510 376.67,507.83 385,506.17 393.33,503.67 401.67,500.67 406.67,500 413.33,501.17 421.67,499.5 430,497.33 436.67,496.17 443.33,497.83 450,501.17 456.67,505.33 465,510.33 473.33,515 480,518.67 485,522.83 493.33,526.17 500,529.5 505,531.5 510,531.17 518.33,529 526.67,527.83 533.33,529.5 540,527 548.33,524.5 556.67,520.33 565,520 571.67,519.17 580,520 586.67,517 595,514.5 600,514 606.67,510.33 615,506.17 623.33,504.5 631.67,505.67 640,506.67 646.67,509.5 656.67,510 665,510.67 673.33,510 681.67,507.33 690,506.17 698.33,506.17 706.67,504.5 715,504 720,504 730.4,504" fill="none" stroke="#b9bcc9" stroke-width="0.95" stroke-linejoin="round" stroke-linecap="round" />
<polyline points="0,491.67 8.33,487.83 16.67,484.5 25,482 33.33,479.5 41.67,477 50,474.5 58.33,472 66.67,470 75,470 83.33,471.67 91.67,474.5 100,477.83 108.33,481.17 116.67,483.67 125,485.33 133.33,487 141.67,486.67 150,485.33 158.33,484 166.67,482 175,480.67 180,481.17 188.33,480.33 196.67,480.33 205,481.67 213.33,483.67 221.67,486.17 230,487.83 238.33,489 246.67,489.83 255,489.5 266.67,489.5 280,489.83 288.33,490.67 296.67,491.33 305,491.17 313.33,490 321.67,489 330,488.67 338.33,489.5 346.67,491.67 355,495 360,497 368.33,500.33 376.67,503.67 385,505 393.33,504.5 401.67,503.33 410,502.33 418.33,501.67 426.67,500.67 435,499.17 443.33,498.67 451.67,499.5 460,501.17 468.33,504 476.67,507.83 485,512.83 493.33,517 501.67,520.33 510,524 518.33,525.33 526.67,526.5 535,527 540,527.33 550,527 560,524.5 570,522.83 580,521.67 590,519.5 600,517.83 610,515 620,511.17 630,509.5 640,508.33 650,508.67 660,510 670,510.33 678.33,509.5 686.67,508.33 696.67,507.83 706.67,506.17 715,505.67 720,505 730.4,505" fill="none" stroke="#c4b42d" stroke-width="0.95" stroke-linejoin="round" stroke-linecap="round" />
<rect x="1074" y="266.5" width="6" height="12.3" fill="#0ca678" />
<rect x="1074" y="428.8" width="6" height="12.1" fill="#c98a1f" />
<rect x="1073" y="-1" width="7" height="10.4" fill="#1f2b52" />
<rect x="1077.4" y="1.2" width="3" height="4.4" fill="#7f90ba" />
<text x="318.6" y="57.02" font-size="8.4" fill="#c9ccd6" textLength="26.4" lengthAdjust="spacingAndGlyphs" stroke="#c9ccd6" stroke-width="0.22">← 64854</text>
<text x="618.3" y="317.42" font-size="8.4" fill="#c9ccd6" textLength="27.7" lengthAdjust="spacingAndGlyphs" stroke="#c9ccd6" stroke-width="0.22">28805 →</text>
<text x="-7" y="41.95" font-size="8.2" fill="#aeb2c1" textLength="70.7" lengthAdjust="spacingAndGlyphs" stroke="#aeb2c1" stroke-width="0.22">时间:2021-07-09 08:00</text>
<text x="68" y="41.95" font-size="8.2" fill="#aeb2c1" textLength="9" lengthAdjust="spacingAndGlyphs" stroke="#aeb2c1" stroke-width="0.22">开:</text>
<text x="77" y="41.95" font-size="8.2" fill="#10b384" textLength="29" lengthAdjust="spacingAndGlyphs" stroke="#10b384" stroke-width="0.22">32875.71</text>
<text x="110.6" y="41.95" font-size="8.2" fill="#aeb2c1" textLength="8.4" lengthAdjust="spacingAndGlyphs" stroke="#aeb2c1" stroke-width="0.22">高:</text>
<text x="119" y="41.95" font-size="8.2" fill="#10b384" textLength="29.5" lengthAdjust="spacingAndGlyphs" stroke="#10b384" stroke-width="0.22">33310.00</text>
<text x="153.7" y="41.95" font-size="8.2" fill="#aeb2c1" textLength="8.8" lengthAdjust="spacingAndGlyphs" stroke="#aeb2c1" stroke-width="0.22">低:</text>
<text x="162.5" y="41.95" font-size="8.2" fill="#10b384" textLength="30" lengthAdjust="spacingAndGlyphs" stroke="#10b384" stroke-width="0.22">32261.07</text>
<text x="196.9" y="41.95" font-size="8.2" fill="#aeb2c1" textLength="8.7" lengthAdjust="spacingAndGlyphs" stroke="#aeb2c1" stroke-width="0.22">收:</text>
<text x="205.6" y="41.95" font-size="8.2" fill="#10b384" textLength="29.4" lengthAdjust="spacingAndGlyphs" stroke="#10b384" stroke-width="0.22">32890.00</text>
<text x="238.7" y="41.95" font-size="8.2" fill="#aeb2c1" textLength="16.3" lengthAdjust="spacingAndGlyphs" stroke="#aeb2c1" stroke-width="0.22">涨幅:</text>
<text x="255" y="41.95" font-size="8.2" fill="#10b384" textLength="42.5" lengthAdjust="spacingAndGlyphs" stroke="#10b384" stroke-width="0.22">0.04%(14.29)</text>
<text x="301.2" y="41.95" font-size="8.2" fill="#aeb2c1" textLength="15.7" lengthAdjust="spacingAndGlyphs" stroke="#aeb2c1" stroke-width="0.22">振幅:</text>
<text x="316.9" y="41.95" font-size="8.2" fill="#10b384" textLength="20" lengthAdjust="spacingAndGlyphs" stroke="#10b384" stroke-width="0.22">3.19%</text>
<path d="M0 50 l1.5 1.6 l2 -3" fill="none" stroke="#5d6277" stroke-width="0.8"/>
<path d="M49 50 q4 -4.4 8 0 q-4 4.4 -8 0z" fill="none" stroke="#5d6277" stroke-width="0.8"/>
<circle cx="53" cy="50" r="1.2" fill="none" stroke="#5d6277" stroke-width="0.8"/>
<circle cx="64.8" cy="50" r="3.2" fill="none" stroke="#5d6277" stroke-width="0.9"/>
<circle cx="64.8" cy="50" r="1.1" fill="none" stroke="#5d6277" stroke-width="0.8"/>
<path d="M73.5 47.5 l5 5 m0 -5 l-5 5" fill="none" stroke="#7d8296" stroke-width="0.8"/>
<text x="8.5" y="52.95" font-size="8.2" fill="#aeb2c1" textLength="35.9" lengthAdjust="spacingAndGlyphs" stroke="#aeb2c1" stroke-width="0.22">BOLL(20,2)</text>
<text x="83.7" y="52.95" font-size="8.2" fill="#aeb2c1" textLength="48.8" lengthAdjust="spacingAndGlyphs" stroke="#aeb2c1" stroke-width="0.22">BOLL:33843.24</text>
<text x="136.9" y="52.95" font-size="8.2" fill="#d6c934" textLength="41.2" lengthAdjust="spacingAndGlyphs" stroke="#d6c934" stroke-width="0.22">UB:36287.30</text>
<text x="181.9" y="52.95" font-size="8.2" fill="#c04aa8" textLength="40" lengthAdjust="spacingAndGlyphs" stroke="#c04aa8" stroke-width="0.22">LB:31399.18</text>
<path d="M0 366.3 l1.5 1.6 l2 -3" fill="none" stroke="#5d6277" stroke-width="0.8"/>
<circle cx="44.3" cy="366.3" r="3.2" fill="none" stroke="#5d6277" stroke-width="0.9"/>
<circle cx="44.3" cy="366.3" r="1.1" fill="none" stroke="#5d6277" stroke-width="0.8"/>
<path d="M52.8 363.8 l5 5 m0 -5 l-5 5" fill="none" stroke="#7d8296" stroke-width="0.8"/>
<text x="8.7" y="369.25" font-size="8.2" fill="#aeb2c1" textLength="28" lengthAdjust="spacingAndGlyphs" stroke="#aeb2c1" stroke-width="0.22">VOLUME</text>
<text x="63.3" y="369.25" font-size="8.2" fill="#aeb2c1" textLength="69.7" lengthAdjust="spacingAndGlyphs" stroke="#aeb2c1" stroke-width="0.22">VOLUME:17,522.6869</text>
<text x="136.7" y="369.25" font-size="8.2" fill="#50556b" textLength="77.5" lengthAdjust="spacingAndGlyphs">预估成交量:53,992.8727</text>
<text x="218" y="369.25" font-size="8.2" fill="#aeb2c1" textLength="61.5" lengthAdjust="spacingAndGlyphs" stroke="#aeb2c1" stroke-width="0.22">MA(5):52,760.2319</text>
<text x="283.3" y="369.25" font-size="8.2" fill="#d6c934" textLength="65.9" lengthAdjust="spacingAndGlyphs" stroke="#d6c934" stroke-width="0.22">MA(10):55,558.1859</text>
<path d="M0 458.7 l1.5 1.6 l2 -3" fill="none" stroke="#5d6277" stroke-width="0.8"/>
<circle cx="64.6" cy="458.7" r="3.2" fill="none" stroke="#5d6277" stroke-width="0.9"/>
<circle cx="64.6" cy="458.7" r="1.1" fill="none" stroke="#5d6277" stroke-width="0.8"/>
<path d="M73.1 456.2 l5 5 m0 -5 l-5 5" fill="none" stroke="#7d8296" stroke-width="0.8"/>
<text x="8.7" y="461.65" font-size="8.2" fill="#aeb2c1" textLength="48" lengthAdjust="spacingAndGlyphs" stroke="#aeb2c1" stroke-width="0.22">MACD(12,26,9)</text>
<text x="83.3" y="461.65" font-size="8.2" fill="#aeb2c1" textLength="36.7" lengthAdjust="spacingAndGlyphs" stroke="#aeb2c1" stroke-width="0.22">DIF:-931.85</text>
<text x="124.2" y="461.65" font-size="8.2" fill="#d6c934" textLength="43" lengthAdjust="spacingAndGlyphs" stroke="#d6c934" stroke-width="0.22">DEA:-1017.18</text>
<text x="170.8" y="461.65" font-size="8.2" fill="#10b384" textLength="44.2" lengthAdjust="spacingAndGlyphs" stroke="#10b384" stroke-width="0.22">MACD:170.67</text>
<text x="-4.5" y="449.88" font-size="8" fill="#a6aab9" textLength="10" lengthAdjust="spacingAndGlyphs" stroke="#a6aab9" stroke-width="0.12">MA</text>
<text x="13" y="449.88" font-size="8" fill="#a6aab9" textLength="14" lengthAdjust="spacingAndGlyphs" stroke="#a6aab9" stroke-width="0.12">EMA</text>
<text x="33" y="449.88" font-size="8" fill="#2d6fd0" textLength="28" lengthAdjust="spacingAndGlyphs" stroke="#2d6fd0" stroke-width="0.12">VOLUME</text>
<text x="68" y="449.88" font-size="8" fill="#5a5f73" textLength="20" lengthAdjust="spacingAndGlyphs" stroke="#5a5f73" stroke-width="0.12">MACD</text>
<text x="95" y="449.88" font-size="8" fill="#a6aab9" textLength="12" lengthAdjust="spacingAndGlyphs" stroke="#a6aab9" stroke-width="0.12">DMI</text>
<text x="114" y="449.88" font-size="8" fill="#a6aab9" textLength="15" lengthAdjust="spacingAndGlyphs" stroke="#a6aab9" stroke-width="0.12">DMA</text>
<text x="136" y="449.88" font-size="8" fill="#a6aab9" textLength="15" lengthAdjust="spacingAndGlyphs" stroke="#a6aab9" stroke-width="0.12">TRIX</text>
<text x="157" y="449.88" font-size="8" fill="#a6aab9" textLength="17" lengthAdjust="spacingAndGlyphs" stroke="#a6aab9" stroke-width="0.12">BRAR</text>
<text x="181" y="449.88" font-size="8" fill="#a6aab9" textLength="8" lengthAdjust="spacingAndGlyphs" stroke="#a6aab9" stroke-width="0.12">VR</text>
<text x="196" y="449.88" font-size="8" fill="#a6aab9" textLength="14" lengthAdjust="spacingAndGlyphs" stroke="#a6aab9" stroke-width="0.12">OBV</text>
<text x="216" y="449.88" font-size="8" fill="#a6aab9" textLength="14" lengthAdjust="spacingAndGlyphs" stroke="#a6aab9" stroke-width="0.12">EMV</text>
<text x="237" y="449.88" font-size="8" fill="#a6aab9" textLength="11" lengthAdjust="spacingAndGlyphs" stroke="#a6aab9" stroke-width="0.12">RSI</text>
<text x="254" y="449.88" font-size="8" fill="#a6aab9" textLength="10" lengthAdjust="spacingAndGlyphs" stroke="#a6aab9" stroke-width="0.12">WR</text>
<text x="272" y="449.88" font-size="8" fill="#a6aab9" textLength="13" lengthAdjust="spacingAndGlyphs" stroke="#a6aab9" stroke-width="0.12">SAR</text>
<text x="290" y="449.88" font-size="8" fill="#a6aab9" textLength="13" lengthAdjust="spacingAndGlyphs" stroke="#a6aab9" stroke-width="0.12">KDJ</text>
<text x="309" y="449.88" font-size="8" fill="#a6aab9" textLength="14" lengthAdjust="spacingAndGlyphs" stroke="#a6aab9" stroke-width="0.12">ROC</text>
<text x="329" y="449.88" font-size="8" fill="#a6aab9" textLength="17" lengthAdjust="spacingAndGlyphs" stroke="#a6aab9" stroke-width="0.12">MTM</text>
<text x="352" y="449.88" font-size="8" fill="#a6aab9" textLength="17" lengthAdjust="spacingAndGlyphs" stroke="#a6aab9" stroke-width="0.12">BOLL</text>
<text x="376" y="449.88" font-size="8" fill="#a6aab9" textLength="13" lengthAdjust="spacingAndGlyphs" stroke="#a6aab9" stroke-width="0.12">PSY</text>
<text x="395" y="449.88" font-size="8" fill="#a6aab9" textLength="29" lengthAdjust="spacingAndGlyphs" stroke="#a6aab9" stroke-width="0.12">StochRSI</text>
<text x="430" y="449.88" font-size="8" fill="#a6aab9" textLength="12" lengthAdjust="spacingAndGlyphs" stroke="#a6aab9" stroke-width="0.12">SMI</text>
<text x="449" y="449.88" font-size="8" fill="#a6aab9" textLength="11" lengthAdjust="spacingAndGlyphs" stroke="#a6aab9" stroke-width="0.12">CCI</text>
<text x="466" y="449.88" font-size="8" fill="#a6aab9" textLength="12" lengthAdjust="spacingAndGlyphs" stroke="#a6aab9" stroke-width="0.12">MFI</text>
<text x="484" y="449.88" font-size="8" fill="#a6aab9" textLength="13" lengthAdjust="spacingAndGlyphs" stroke="#a6aab9" stroke-width="0.12">ATR</text>
<text x="503" y="449.88" font-size="8" fill="#a6aab9" textLength="16" lengthAdjust="spacingAndGlyphs" stroke="#a6aab9" stroke-width="0.12">BBW</text>
<text x="525" y="449.88" font-size="8" fill="#a6aab9" textLength="16" lengthAdjust="spacingAndGlyphs" stroke="#a6aab9" stroke-width="0.12">SKDJ</text>
<text x="548" y="449.88" font-size="8" fill="#a6aab9" textLength="16" lengthAdjust="spacingAndGlyphs" stroke="#a6aab9" stroke-width="0.12">BIAS</text>
<text x="570" y="449.88" font-size="8" fill="#a6aab9" textLength="14" lengthAdjust="spacingAndGlyphs" stroke="#a6aab9" stroke-width="0.12">DPO</text>
<text x="590" y="449.88" font-size="8" fill="#a6aab9" textLength="9" lengthAdjust="spacingAndGlyphs" stroke="#a6aab9" stroke-width="0.12">AO</text>
<text x="606" y="449.88" font-size="8" fill="#a6aab9" textLength="26" lengthAdjust="spacingAndGlyphs" stroke="#a6aab9" stroke-width="0.12">Position</text>
<text x="638" y="449.88" font-size="8" fill="#a6aab9" textLength="29" lengthAdjust="spacingAndGlyphs" stroke="#a6aab9" stroke-width="0.12">Fundflow</text>
<text x="674" y="449.88" font-size="8" fill="#5a5f73" textLength="33" lengthAdjust="spacingAndGlyphs" stroke="#5a5f73" stroke-width="0.12">AI-NetVOL</text>
<text x="714" y="449.88" font-size="8" fill="#a6aab9" textLength="17" lengthAdjust="spacingAndGlyphs" stroke="#a6aab9" stroke-width="0.12">LSUR</text>
<text x="737" y="449.88" font-size="8" fill="#a6aab9" textLength="19" lengthAdjust="spacingAndGlyphs" stroke="#a6aab9" stroke-width="0.12">BASIS</text>
<text x="763" y="449.88" font-size="8" fill="#a6aab9" textLength="28" lengthAdjust="spacingAndGlyphs" stroke="#a6aab9" stroke-width="0.12">TVolume</text>
<text x="797" y="449.88" font-size="8" fill="#a6aab9" textLength="17" lengthAdjust="spacingAndGlyphs" stroke="#a6aab9" stroke-width="0.12">FTBS</text>
<text x="820" y="449.88" font-size="8" fill="#a6aab9" textLength="15" lengthAdjust="spacingAndGlyphs" stroke="#a6aab9" stroke-width="0.12">TTSI</text>
<text x="841" y="449.88" font-size="8" fill="#a6aab9" textLength="20" lengthAdjust="spacingAndGlyphs" stroke="#a6aab9" stroke-width="0.12">TTMU</text>
<text x="867" y="449.88" font-size="8" fill="#5a5f73" textLength="19" lengthAdjust="spacingAndGlyphs" stroke="#5a5f73" stroke-width="0.12">AI-BSI</text>
<text x="893" y="449.88" font-size="8" fill="#a6aab9" textLength="14" lengthAdjust="spacingAndGlyphs" stroke="#a6aab9" stroke-width="0.12">MLR</text>
<text x="913" y="449.88" font-size="8" fill="#5a5f73" textLength="18" lengthAdjust="spacingAndGlyphs" stroke="#5a5f73" stroke-width="0.12">AI-PD</text>
<text x="937" y="449.88" font-size="8" fill="#5a5f73" textLength="20" lengthAdjust="spacingAndGlyphs" stroke="#5a5f73" stroke-width="0.12">AI-FDI</text>
<text x="963" y="449.88" font-size="8" fill="#5a5f73" textLength="14" lengthAdjust="spacingAndGlyphs" stroke="#5a5f73" stroke-width="0.12">AI-LI</text>
<text x="983" y="449.88" font-size="8" fill="#a6aab9" textLength="9" lengthAdjust="spacingAndGlyphs" stroke="#a6aab9" stroke-width="0.12">FR</text>
<text x="998" y="449.88" font-size="8" fill="#a6aab9" textLength="12" lengthAdjust="spacingAndGlyphs" stroke="#a6aab9" stroke-width="0.12">PFR</text>
<text x="1016" y="449.88" font-size="8" fill="#5a5f73" textLength="22" lengthAdjust="spacingAndGlyphs" stroke="#5a5f73" stroke-width="0.12">AI-BST</text>
<text x="-4.5" y="543.38" font-size="8" fill="#a6aab9" textLength="10" lengthAdjust="spacingAndGlyphs" stroke="#a6aab9" stroke-width="0.12">MA</text>
<text x="13" y="543.38" font-size="8" fill="#a6aab9" textLength="14" lengthAdjust="spacingAndGlyphs" stroke="#a6aab9" stroke-width="0.12">EMA</text>
<text x="33" y="543.38" font-size="8" fill="#5a5f73" textLength="28" lengthAdjust="spacingAndGlyphs" stroke="#5a5f73" stroke-width="0.12">VOLUME</text>
<text x="68" y="543.38" font-size="8" fill="#2d6fd0" textLength="20" lengthAdjust="spacingAndGlyphs" stroke="#2d6fd0" stroke-width="0.12">MACD</text>
<text x="95" y="543.38" font-size="8" fill="#a6aab9" textLength="12" lengthAdjust="spacingAndGlyphs" stroke="#a6aab9" stroke-width="0.12">DMI</text>
<text x="114" y="543.38" font-size="8" fill="#a6aab9" textLength="15" lengthAdjust="spacingAndGlyphs" stroke="#a6aab9" stroke-width="0.12">DMA</text>
<text x="136" y="543.38" font-size="8" fill="#a6aab9" textLength="15" lengthAdjust="spacingAndGlyphs" stroke="#a6aab9" stroke-width="0.12">TRIX</text>
<text x="157" y="543.38" font-size="8" fill="#a6aab9" textLength="17" lengthAdjust="spacingAndGlyphs" stroke="#a6aab9" stroke-width="0.12">BRAR</text>
<text x="181" y="543.38" font-size="8" fill="#a6aab9" textLength="8" lengthAdjust="spacingAndGlyphs" stroke="#a6aab9" stroke-width="0.12">VR</text>
<text x="196" y="543.38" font-size="8" fill="#a6aab9" textLength="14" lengthAdjust="spacingAndGlyphs" stroke="#a6aab9" stroke-width="0.12">OBV</text>
<text x="216" y="543.38" font-size="8" fill="#a6aab9" textLength="14" lengthAdjust="spacingAndGlyphs" stroke="#a6aab9" stroke-width="0.12">EMV</text>
<text x="237" y="543.38" font-size="8" fill="#a6aab9" textLength="11" lengthAdjust="spacingAndGlyphs" stroke="#a6aab9" stroke-width="0.12">RSI</text>
<text x="254" y="543.38" font-size="8" fill="#a6aab9" textLength="10" lengthAdjust="spacingAndGlyphs" stroke="#a6aab9" stroke-width="0.12">WR</text>
<text x="272" y="543.38" font-size="8" fill="#a6aab9" textLength="13" lengthAdjust="spacingAndGlyphs" stroke="#a6aab9" stroke-width="0.12">SAR</text>
<text x="290" y="543.38" font-size="8" fill="#a6aab9" textLength="13" lengthAdjust="spacingAndGlyphs" stroke="#a6aab9" stroke-width="0.12">KDJ</text>
<text x="309" y="543.38" font-size="8" fill="#a6aab9" textLength="14" lengthAdjust="spacingAndGlyphs" stroke="#a6aab9" stroke-width="0.12">ROC</text>
<text x="329" y="543.38" font-size="8" fill="#a6aab9" textLength="17" lengthAdjust="spacingAndGlyphs" stroke="#a6aab9" stroke-width="0.12">MTM</text>
<text x="352" y="543.38" font-size="8" fill="#a6aab9" textLength="17" lengthAdjust="spacingAndGlyphs" stroke="#a6aab9" stroke-width="0.12">BOLL</text>
<text x="376" y="543.38" font-size="8" fill="#a6aab9" textLength="13" lengthAdjust="spacingAndGlyphs" stroke="#a6aab9" stroke-width="0.12">PSY</text>
<text x="395" y="543.38" font-size="8" fill="#a6aab9" textLength="29" lengthAdjust="spacingAndGlyphs" stroke="#a6aab9" stroke-width="0.12">StochRSI</text>
<text x="430" y="543.38" font-size="8" fill="#a6aab9" textLength="12" lengthAdjust="spacingAndGlyphs" stroke="#a6aab9" stroke-width="0.12">SMI</text>
<text x="449" y="543.38" font-size="8" fill="#a6aab9" textLength="11" lengthAdjust="spacingAndGlyphs" stroke="#a6aab9" stroke-width="0.12">CCI</text>
<text x="466" y="543.38" font-size="8" fill="#a6aab9" textLength="12" lengthAdjust="spacingAndGlyphs" stroke="#a6aab9" stroke-width="0.12">MFI</text>
<text x="484" y="543.38" font-size="8" fill="#a6aab9" textLength="13" lengthAdjust="spacingAndGlyphs" stroke="#a6aab9" stroke-width="0.12">ATR</text>
<text x="503" y="543.38" font-size="8" fill="#a6aab9" textLength="16" lengthAdjust="spacingAndGlyphs" stroke="#a6aab9" stroke-width="0.12">BBW</text>
<text x="525" y="543.38" font-size="8" fill="#a6aab9" textLength="16" lengthAdjust="spacingAndGlyphs" stroke="#a6aab9" stroke-width="0.12">SKDJ</text>
<text x="548" y="543.38" font-size="8" fill="#a6aab9" textLength="16" lengthAdjust="spacingAndGlyphs" stroke="#a6aab9" stroke-width="0.12">BIAS</text>
<text x="570" y="543.38" font-size="8" fill="#a6aab9" textLength="14" lengthAdjust="spacingAndGlyphs" stroke="#a6aab9" stroke-width="0.12">DPO</text>
<text x="590" y="543.38" font-size="8" fill="#a6aab9" textLength="9" lengthAdjust="spacingAndGlyphs" stroke="#a6aab9" stroke-width="0.12">AO</text>
<text x="606" y="543.38" font-size="8" fill="#a6aab9" textLength="26" lengthAdjust="spacingAndGlyphs" stroke="#a6aab9" stroke-width="0.12">Position</text>
<text x="638" y="543.38" font-size="8" fill="#a6aab9" textLength="29" lengthAdjust="spacingAndGlyphs" stroke="#a6aab9" stroke-width="0.12">Fundflow</text>
<text x="674" y="543.38" font-size="8" fill="#5a5f73" textLength="33" lengthAdjust="spacingAndGlyphs" stroke="#5a5f73" stroke-width="0.12">AI-NetVOL</text>
<text x="714" y="543.38" font-size="8" fill="#a6aab9" textLength="17" lengthAdjust="spacingAndGlyphs" stroke="#a6aab9" stroke-width="0.12">LSUR</text>
<text x="737" y="543.38" font-size="8" fill="#a6aab9" textLength="19" lengthAdjust="spacingAndGlyphs" stroke="#a6aab9" stroke-width="0.12">BASIS</text>
<text x="763" y="543.38" font-size="8" fill="#a6aab9" textLength="28" lengthAdjust="spacingAndGlyphs" stroke="#a6aab9" stroke-width="0.12">TVolume</text>
<text x="797" y="543.38" font-size="8" fill="#a6aab9" textLength="17" lengthAdjust="spacingAndGlyphs" stroke="#a6aab9" stroke-width="0.12">FTBS</text>
<text x="820" y="543.38" font-size="8" fill="#a6aab9" textLength="15" lengthAdjust="spacingAndGlyphs" stroke="#a6aab9" stroke-width="0.12">TTSI</text>
<text x="841" y="543.38" font-size="8" fill="#a6aab9" textLength="20" lengthAdjust="spacingAndGlyphs" stroke="#a6aab9" stroke-width="0.12">TTMU</text>
<text x="867" y="543.38" font-size="8" fill="#5a5f73" textLength="19" lengthAdjust="spacingAndGlyphs" stroke="#5a5f73" stroke-width="0.12">AI-BSI</text>
<text x="893" y="543.38" font-size="8" fill="#a6aab9" textLength="14" lengthAdjust="spacingAndGlyphs" stroke="#a6aab9" stroke-width="0.12">MLR</text>
<text x="913" y="543.38" font-size="8" fill="#5a5f73" textLength="18" lengthAdjust="spacingAndGlyphs" stroke="#5a5f73" stroke-width="0.12">AI-PD</text>
<text x="937" y="543.38" font-size="8" fill="#5a5f73" textLength="20" lengthAdjust="spacingAndGlyphs" stroke="#5a5f73" stroke-width="0.12">AI-FDI</text>
<text x="963" y="543.38" font-size="8" fill="#5a5f73" textLength="14" lengthAdjust="spacingAndGlyphs" stroke="#5a5f73" stroke-width="0.12">AI-LI</text>
<text x="983" y="543.38" font-size="8" fill="#a6aab9" textLength="9" lengthAdjust="spacingAndGlyphs" stroke="#a6aab9" stroke-width="0.12">FR</text>
<text x="998" y="543.38" font-size="8" fill="#a6aab9" textLength="12" lengthAdjust="spacingAndGlyphs" stroke="#a6aab9" stroke-width="0.12">PFR</text>
<text x="1016" y="543.38" font-size="8" fill="#5a5f73" textLength="22" lengthAdjust="spacingAndGlyphs" stroke="#5a5f73" stroke-width="0.12">AI-BST</text>
<text x="50" y="556.15" font-size="8.2" fill="#b0b4c2" textLength="21" lengthAdjust="spacingAndGlyphs" stroke="#b0b4c2" stroke-width="0.22">2月 20</text>
<text x="105" y="556.15" font-size="8.2" fill="#b0b4c2" textLength="17" lengthAdjust="spacingAndGlyphs" stroke="#b0b4c2" stroke-width="0.22">3月 3</text>
<text x="156" y="556.15" font-size="8.2" fill="#b0b4c2" textLength="21" lengthAdjust="spacingAndGlyphs" stroke="#b0b4c2" stroke-width="0.22">3月 14</text>
<text x="209" y="556.15" font-size="8.2" fill="#b0b4c2" textLength="21" lengthAdjust="spacingAndGlyphs" stroke="#b0b4c2" stroke-width="0.22">3月 25</text>
<text x="264" y="556.15" font-size="8.2" fill="#b0b4c2" textLength="17" lengthAdjust="spacingAndGlyphs" stroke="#b0b4c2" stroke-width="0.22">4月 5</text>
<text x="315" y="556.15" font-size="8.2" fill="#b0b4c2" textLength="21" lengthAdjust="spacingAndGlyphs" stroke="#b0b4c2" stroke-width="0.22">4月 16</text>
<text x="368" y="556.15" font-size="8.2" fill="#b0b4c2" textLength="21" lengthAdjust="spacingAndGlyphs" stroke="#b0b4c2" stroke-width="0.22">4月 27</text>
<text x="423" y="556.15" font-size="8.2" fill="#b0b4c2" textLength="17" lengthAdjust="spacingAndGlyphs" stroke="#b0b4c2" stroke-width="0.22">5月 8</text>
<text x="474" y="556.15" font-size="8.2" fill="#b0b4c2" textLength="21" lengthAdjust="spacingAndGlyphs" stroke="#b0b4c2" stroke-width="0.22">5月 19</text>
<text x="527" y="556.15" font-size="8.2" fill="#b0b4c2" textLength="21" lengthAdjust="spacingAndGlyphs" stroke="#b0b4c2" stroke-width="0.22">5月 30</text>
<text x="580" y="556.15" font-size="8.2" fill="#b0b4c2" textLength="21" lengthAdjust="spacingAndGlyphs" stroke="#b0b4c2" stroke-width="0.22">6月 10</text>
<text x="633" y="556.15" font-size="8.2" fill="#b0b4c2" textLength="21" lengthAdjust="spacingAndGlyphs" stroke="#b0b4c2" stroke-width="0.22">6月 21</text>
<text x="688" y="556.15" font-size="8.2" fill="#b0b4c2" textLength="17" lengthAdjust="spacingAndGlyphs" stroke="#b0b4c2" stroke-width="0.22">7月 2</text>
<text x="739" y="556.15" font-size="8.2" fill="#b0b4c2" textLength="21" lengthAdjust="spacingAndGlyphs" stroke="#b0b4c2" stroke-width="0.22">7月 13</text>
<text x="792" y="556.15" font-size="8.2" fill="#b0b4c2" textLength="21" lengthAdjust="spacingAndGlyphs" stroke="#b0b4c2" stroke-width="0.22">7月 24</text>
<text x="847" y="556.15" font-size="8.2" fill="#b0b4c2" textLength="17" lengthAdjust="spacingAndGlyphs" stroke="#b0b4c2" stroke-width="0.22">8月 4</text>
<text x="898" y="556.15" font-size="8.2" fill="#b0b4c2" textLength="21" lengthAdjust="spacingAndGlyphs" stroke="#b0b4c2" stroke-width="0.22">8月 15</text>
<text x="951" y="556.15" font-size="8.2" fill="#b0b4c2" textLength="21" lengthAdjust="spacingAndGlyphs" stroke="#b0b4c2" stroke-width="0.22">8月 26</text>
<text x="1006" y="556.15" font-size="8.2" fill="#b0b4c2" textLength="17" lengthAdjust="spacingAndGlyphs" stroke="#b0b4c2" stroke-width="0.22">9月 6</text>
<text x="1057" y="556.15" font-size="8.2" fill="#b0b4c2" textLength="11" lengthAdjust="spacingAndGlyphs" stroke="#b0b4c2" stroke-width="0.22">9月</text>
<rect x="1068" y="547" width="12" height="12" fill="#0f1328" />
<text x="1068.5" y="556.08" font-size="8" fill="#2d6fd0" textLength="16" lengthAdjust="spacingAndGlyphs" stroke="#2d6fd0" stroke-width="0.22">对数</text>
<text x="6" y="570.4" font-size="8.6" fill="#aeb2c1" textLength="87" lengthAdjust="spacingAndGlyphs" stroke="#aeb2c1" stroke-width="0.22">CME比特币期货CFD-新浪</text>
<text x="101" y="570.4" font-size="8.6" fill="#10b384" textLength="28" lengthAdjust="spacingAndGlyphs" stroke="#10b384" stroke-width="0.22">$32974</text>
<text x="135" y="570.4" font-size="8.6" fill="#10b384" textLength="26" lengthAdjust="spacingAndGlyphs" stroke="#10b384" stroke-width="0.22">+1.78%</text>
<text x="181" y="570.4" font-size="8.6" fill="#aeb2c1" textLength="76" lengthAdjust="spacingAndGlyphs" stroke="#aeb2c1" stroke-width="0.22">USDT场外-火币全球站</text>
<text x="265" y="570.4" font-size="8.6" fill="#f2695e" textLength="19" lengthAdjust="spacingAndGlyphs" stroke="#f2695e" stroke-width="0.22">¥6.43</text>
<text x="290" y="570.4" font-size="8.6" fill="#f2695e" textLength="44" lengthAdjust="spacingAndGlyphs" stroke="#f2695e" stroke-width="0.22">溢价 -0.85%</text>
<text x="353" y="570.4" font-size="8.6" fill="#aeb2c1" textLength="90" lengthAdjust="spacingAndGlyphs" stroke="#aeb2c1" stroke-width="0.22">OKEx-BTC多空持仓人数比</text>
<text x="451" y="570.4" font-size="8.6" fill="#10b384" textLength="15" lengthAdjust="spacingAndGlyphs" stroke="#10b384" stroke-width="0.22">1.14</text>
<text x="472" y="570.4" font-size="8.6" fill="#10b384" textLength="33" lengthAdjust="spacingAndGlyphs" stroke="#10b384" stroke-width="0.22">多头占优</text>
<text x="524" y="570.4" font-size="8.6" fill="#aeb2c1" textLength="82" lengthAdjust="spacingAndGlyphs" stroke="#aeb2c1" stroke-width="0.22">Coinbase BTC溢价指数</text>
<text x="612" y="570.4" font-size="8.6" fill="#10b384" textLength="36" lengthAdjust="spacingAndGlyphs" stroke="#10b384" stroke-width="0.22">0.000372</text>
<text x="653" y="570.4" font-size="8.6" fill="#10b384" textLength="25" lengthAdjust="spacingAndGlyphs" stroke="#10b384" stroke-width="0.22">美盘强</text>
<text x="697" y="570.4" font-size="8.6" fill="#aeb2c1" textLength="68" lengthAdjust="spacingAndGlyphs" stroke="#aeb2c1" stroke-width="0.22">BTC 总市值占比 (%)</text>
<text x="773" y="570.4" font-size="8.6" fill="#10b384" textLength="22" lengthAdjust="spacingAndGlyphs" stroke="#10b384" stroke-width="0.22">45.68</text>
<text x="802" y="570.4" font-size="8.6" fill="#10b384" textLength="25" lengthAdjust="spacingAndGlyphs" stroke="#10b384" stroke-width="0.22">+1.51%</text>
<text x="973" y="570.4" font-size="8.6" fill="#aeb2c1" textLength="22" lengthAdjust="spacingAndGlyphs" stroke="#aeb2c1" stroke-width="0.22">线路1 :</text>
<text x="999" y="570.4" font-size="8.6" fill="#10b384" textLength="33" lengthAdjust="spacingAndGlyphs" stroke="#10b384" stroke-width="0.22">优 182ms</text>
<text x="1043" y="570.4" font-size="8.6" fill="#aeb2c1" textLength="43.5" lengthAdjust="spacingAndGlyphs" stroke="#aeb2c1" stroke-width="0.22">HK 07-09 16:</text>
<g fill="none" stroke="#b4b8c6" stroke-width="1" stroke-linecap="round"><path d="M958.5 565.3 q5.5 -4.6 11 0"/><path d="M960.5 567.6 q3.5 -3 7 0"/><path d="M962.5 569.6 q1.5 -1.4 3 0"/></g>
<rect x="24" y="-2" width="15.5" height="10.5" fill="#3a3322" />
<text x="6" y="6.22" font-size="8.4" fill="#aeb2c1" textLength="16" lengthAdjust="spacingAndGlyphs" font-weight="500" stroke="#aeb2c1" stroke-width="0.22">指标</text>
<text x="25.2" y="6.22" font-size="8.4" fill="#e8c868" textLength="13.3" lengthAdjust="spacingAndGlyphs" font-weight="700" stroke="#e8c868" stroke-width="0.22">主力</text>
<text x="60" y="6.22" font-size="8.4" fill="#aeb2c1" textLength="16" lengthAdjust="spacingAndGlyphs" font-weight="500" stroke="#aeb2c1" stroke-width="0.22">设置</text>
<text x="95" y="6.22" font-size="8.4" fill="#2f7fe0" textLength="16" lengthAdjust="spacingAndGlyphs" font-weight="500" stroke="#2f7fe0" stroke-width="0.22">画线</text>
<text x="130" y="6.22" font-size="8.4" fill="#aeb2c1" textLength="16" lengthAdjust="spacingAndGlyphs" font-weight="500" stroke="#aeb2c1" stroke-width="0.22">高级</text>
<text x="165" y="6.22" font-size="8.4" fill="#e5a823" textLength="24.5" lengthAdjust="spacingAndGlyphs" font-weight="700" stroke="#e5a823" stroke-width="0.22">高胜率</text>
<text x="201" y="6.22" font-size="8.4" fill="#aeb2c1" textLength="39" lengthAdjust="spacingAndGlyphs" font-weight="500" stroke="#aeb2c1" stroke-width="0.22">自定义周期</text>
<text x="256" y="6.22" font-size="8.4" fill="#aeb2c1" textLength="12" lengthAdjust="spacingAndGlyphs" font-weight="500" stroke="#aeb2c1" stroke-width="0.22">1秒</text>
<text x="276" y="6.22" font-size="8.4" fill="#aeb2c1" textLength="14" lengthAdjust="spacingAndGlyphs" font-weight="500" stroke="#aeb2c1" stroke-width="0.22">分时</text>
<text x="298" y="6.22" font-size="8.4" fill="#aeb2c1" textLength="20" lengthAdjust="spacingAndGlyphs" font-weight="500" stroke="#aeb2c1" stroke-width="0.22">1分钟</text>
<text x="326" y="6.22" font-size="8.4" fill="#aeb2c1" textLength="20" lengthAdjust="spacingAndGlyphs" font-weight="500" stroke="#aeb2c1" stroke-width="0.22">3分钟</text>
<text x="353" y="6.22" font-size="8.4" fill="#aeb2c1" textLength="20" lengthAdjust="spacingAndGlyphs" font-weight="500" stroke="#aeb2c1" stroke-width="0.22">5分钟</text>
<text x="381" y="6.22" font-size="8.4" fill="#aeb2c1" textLength="24" lengthAdjust="spacingAndGlyphs" font-weight="500" stroke="#aeb2c1" stroke-width="0.22">10分钟</text>
<text x="412" y="6.22" font-size="8.4" fill="#aeb2c1" textLength="24" lengthAdjust="spacingAndGlyphs" font-weight="500" stroke="#aeb2c1" stroke-width="0.22">15分钟</text>
<text x="444" y="6.22" font-size="8.4" fill="#aeb2c1" textLength="24" lengthAdjust="spacingAndGlyphs" font-weight="500" stroke="#aeb2c1" stroke-width="0.22">30分钟</text>
<text x="476" y="6.22" font-size="8.4" fill="#aeb2c1" textLength="19" lengthAdjust="spacingAndGlyphs" font-weight="500" stroke="#aeb2c1" stroke-width="0.22">1小时</text>
<text x="502" y="6.22" font-size="8.4" fill="#aeb2c1" textLength="20" lengthAdjust="spacingAndGlyphs" font-weight="500" stroke="#aeb2c1" stroke-width="0.22">2小时</text>
<text x="530" y="6.22" font-size="8.4" fill="#aeb2c1" textLength="20" lengthAdjust="spacingAndGlyphs" font-weight="500" stroke="#aeb2c1" stroke-width="0.22">3小时</text>
<text x="557" y="6.22" font-size="8.4" fill="#aeb2c1" textLength="20" lengthAdjust="spacingAndGlyphs" font-weight="500" stroke="#aeb2c1" stroke-width="0.22">4小时</text>
<text x="584" y="6.22" font-size="8.4" fill="#aeb2c1" textLength="21" lengthAdjust="spacingAndGlyphs" font-weight="500" stroke="#aeb2c1" stroke-width="0.22">6小时</text>
<text x="612" y="6.22" font-size="8.4" fill="#aeb2c1" textLength="24" lengthAdjust="spacingAndGlyphs" font-weight="500" stroke="#aeb2c1" stroke-width="0.22">12小时</text>
<text x="644" y="6.22" font-size="8.4" fill="#2f7fe0" textLength="11" lengthAdjust="spacingAndGlyphs" font-weight="500" stroke="#2f7fe0" stroke-width="0.22">1日</text>
<text x="663" y="6.22" font-size="8.4" fill="#aeb2c1" textLength="11" lengthAdjust="spacingAndGlyphs" font-weight="500" stroke="#aeb2c1" stroke-width="0.22">2日</text>
<text x="682" y="6.22" font-size="8.4" fill="#aeb2c1" textLength="12" lengthAdjust="spacingAndGlyphs" font-weight="500" stroke="#aeb2c1" stroke-width="0.22">3日</text>
<text x="702" y="6.22" font-size="8.4" fill="#aeb2c1" textLength="11" lengthAdjust="spacingAndGlyphs" font-weight="500" stroke="#aeb2c1" stroke-width="0.22">5日</text>
<text x="721" y="6.22" font-size="8.4" fill="#aeb2c1" textLength="13" lengthAdjust="spacingAndGlyphs" font-weight="500" stroke="#aeb2c1" stroke-width="0.22">周K</text>
<text x="741" y="6.22" font-size="8.4" fill="#aeb2c1" textLength="14" lengthAdjust="spacingAndGlyphs" font-weight="500" stroke="#aeb2c1" stroke-width="0.22">季K</text>
<text x="761" y="6.22" font-size="8.4" fill="#aeb2c1" textLength="13" lengthAdjust="spacingAndGlyphs" font-weight="500" stroke="#aeb2c1" stroke-width="0.22">年K</text>
<text x="781" y="6.22" font-size="8.4" fill="#aeb2c1" textLength="13" lengthAdjust="spacingAndGlyphs" font-weight="500" stroke="#aeb2c1" stroke-width="0.22">月K</text>
<text x="1033" y="6.22" font-size="8.4" fill="#aeb2c1" textLength="8" lengthAdjust="spacingAndGlyphs" font-weight="500" stroke="#aeb2c1" stroke-width="0.22">1s</text>
<path d="M244.5 2.6 l4.6 0 l-2.3 2.6z" fill="#8a8fa3"/>
<g fill="none" stroke="#b4b8c6" stroke-width="0.9">
<rect x="-3" y="-1" width="6" height="7.5" rx="0.8"/>
<circle cx="53" cy="3.5" r="3.4"/><circle cx="53" cy="3.5" r="1.2"/>
<path d="M121.5 2 h5.5 v5.5 h-5.5z M122.5 2 v-1.6 h3.5 v1.6"/>
</g>
<g fill="none" stroke="#2f7fe0" stroke-width="1"><path d="M86 6.8 l5 -6 l1.6 1.4 l-5 6 l-2.2 0.8z M89 7.2 h4"/></g>
<g fill="none" stroke="#e5a823" stroke-width="1"><circle cx="158.3" cy="3.4" r="3.3"/><path d="M156.8 3.6 l1.2 1.2 l2 -2.4"/></g>
<g fill="#b4b8c6"><rect x="1047.4" y="-0.4" width="1.6" height="1.8"/><rect x="1051.9" y="-0.4" width="1.6" height="1.8"/></g>
<g fill="none" stroke="#b4b8c6" stroke-width="0.9"><path d="M1046.9 6.8 l1.4 -2 l1.4 2 M1051.4 6.8 l1.4 -2 l1.4 2"/><path d="M1060.8 -1 v3.4 M1064.6 -0.6 h3 v6.8 h-3.4 M1060 5.2 h2.6 M1061.3 3.9 v2.6"/></g>
<rect x="0" y="16.6" width="8.3" height="12.5" fill="#1b2c52" />
<g fill="none" stroke="#2b7cd6" stroke-width="1.2"><path d="M3.2 16.8 v12.2 M0 22.6 h8.3"/></g>
<g fill="none" stroke="#a4a8b8" stroke-width="0.85" stroke-linecap="round">
<path d="M21.1 22.5 h10.8 M25.5 20.8 v3.6"/>
<path d="M45.8 24.5 l6.1 -6.5 M47.2 27.7 l8.4 -7.8 M47.6 20.6 l2.6 2.4 M50.6 23.2 l2.4 2.2"/>
<path d="M70.1 18.3 v8.3 h8.6 z"/>
<path d="M93.7 19.4 h10.2 M93.7 22.6 h10.2 M93.7 25.9 h10.2 M98 18.6 l1.2 0.8 l-1.2 0.8 M98 25.1 l1.2 0.8 l-1.2 0.8"/>
<path d="M117.3 18.6 l1.2 0 l1.6 7.6 l2.2 -6.4 l1.8 6.4 l1.6 -6.8 M127 23.4 l0.8 -0.4 v3.2"/>
<path d="M142.3 19.4 h8.3 v7.2 h-8.3z M144.6 23.1 h3.8 M146.5 21.2 v3.8"/>
<path d="M279.2 18.8 v8.2 M277.8 20.6 h2.8 v4.6 h-2.8z M283.6 18.8 v8.2 M282.2 21 h2.8 v3.8 h-2.8z M276 21.4 q-1.4 1.6 0 3.2 M286.8 21.4 q1.4 1.6 0 3.2"/>
<path d="M298.3 21.6 h6.4 v5.2 h-6.4z M299.9 21.6 v-2.2 h3.2 v2.2 M301.5 23.4 v1.6"/>
<path d="M321.8 20.2 h5.2 v6.8 l-2.6 -1.6 l-2.6 1.6z M319.8 24.8 v-6.4 h5.4"/>
<path d="M340.4 19.2 h7.8 v7.4 h-7.8z M342.2 21.6 h4.2 M342.2 23.8 h2.4 M345.6 25.8 l2.8 -2.8"/>
<path d="M362.4 20.6 h8 M363.4 20.6 v6.2 h6 v-6.2 M364.8 20.4 v-1.6 h3.2 v1.6 M365.2 23.4 h2.6"/>
</g>
<g fill="none" stroke="#7d8299" stroke-width="0.85" stroke-linecap="round" stroke-linejoin="round">
<path d="M232.2 25.4 l5.6 -6.4 q1 -0.8 2 0 l0.6 0.6 q0.8 1 0 2 l-5.6 6.2 q-1 0.8 -2 0 l-0.6 -0.5 q-0.8 -0.9 0 -1.9z M235.6 21.6 l2.4 2.2"/>
<path d="M253 25.2 l5.2 -6.2 q1 -0.8 2 0 l0.5 0.5 q0.8 1 0 2 l-5.2 6 l-3 0.6z M256.4 21.2 l2.2 2 M258 26.6 q1.2 -2 2.4 -0.6 q1 1 2.6 -0.8"/>
</g>
<text x="165.6" y="26.28" font-size="9.4" fill="#b8bccb" textLength="10.8" lengthAdjust="spacingAndGlyphs" stroke="#b8bccb" stroke-width="0.22">Aa</text>
<g fill="none" stroke="#b6a27a" stroke-width="0.95" stroke-linecap="round">
<path d="M189.4 25 l5.6 -6 l2.6 2.4 l-5.6 6z M191.4 23 l1.2 1.2 M193.2 21 l1.2 1.2 M188.3 20.2 v-2.2 h2.2 M198 25.2 v2.2 h-2.2"/>
<path d="M210.2 25.4 q-1.8 -2.6 0.8 -5.2 q2.6 -2.6 5.4 -0.8 M218.8 20.6 q1.8 2.6 -0.8 5.2 q-2.6 2.6 -5.4 0.8 M211.6 27 l6 -7.6 M210.8 25.6 l5.6 -6.8"/>
</g>
<path d="M193 27.4 h4.2" stroke="#d99a9a" stroke-width="0.6" fill="none"/>
<path d="M14.4 29.1 h-3.1 l3.1 -3.1z" fill="#5f6682"/>
<path d="M38 29.1 h-3.1 l3.1 -3.1z" fill="#5f6682"/>
<path d="M62.5 29.1 h-3.1 l3.1 -3.1z" fill="#5f6682"/>
<path d="M86.1 29.1 h-3.1 l3.1 -3.1z" fill="#5f6682"/>
<path d="M110.8 29.1 h-3.1 l3.1 -3.1z" fill="#5f6682"/>
<path d="M134.3 29.1 h-3.1 l3.1 -3.1z" fill="#5f6682"/>
<path d="M159 29.1 h-3.1 l3.1 -3.1z" fill="#5f6682"/>
<polygon points="824.7,341.3 817.48,334.06 794.63,313.76 755.1,280.11 758.19,278.92 746.7,275.8 751.76,286.57 752.39,283.32 792.37,316.44 816.32,335.44" fill="#f03232"/>
<polygon points="730.2,489.5 738.24,480.27 760.88,451.47 799.56,400.42 800.93,403.44 803.4,391.8 792.92,397.45 796.2,397.9 758.08,449.37 736.8,479.19" fill="#f03232"/>
<text x="813" y="357.9" font-size="13.9" fill="#f03232" textLength="258.7" lengthAdjust="spacingAndGlyphs" font-weight="500">难以站上Boll中轨，MACD碰到零轴就变</text>
<text x="813" y="377.4" font-size="13.9" fill="#f03232" textLength="145" lengthAdjust="spacingAndGlyphs" font-weight="500">软，技术指标依然趋弱</text>
</svg>
</body>
</html>
